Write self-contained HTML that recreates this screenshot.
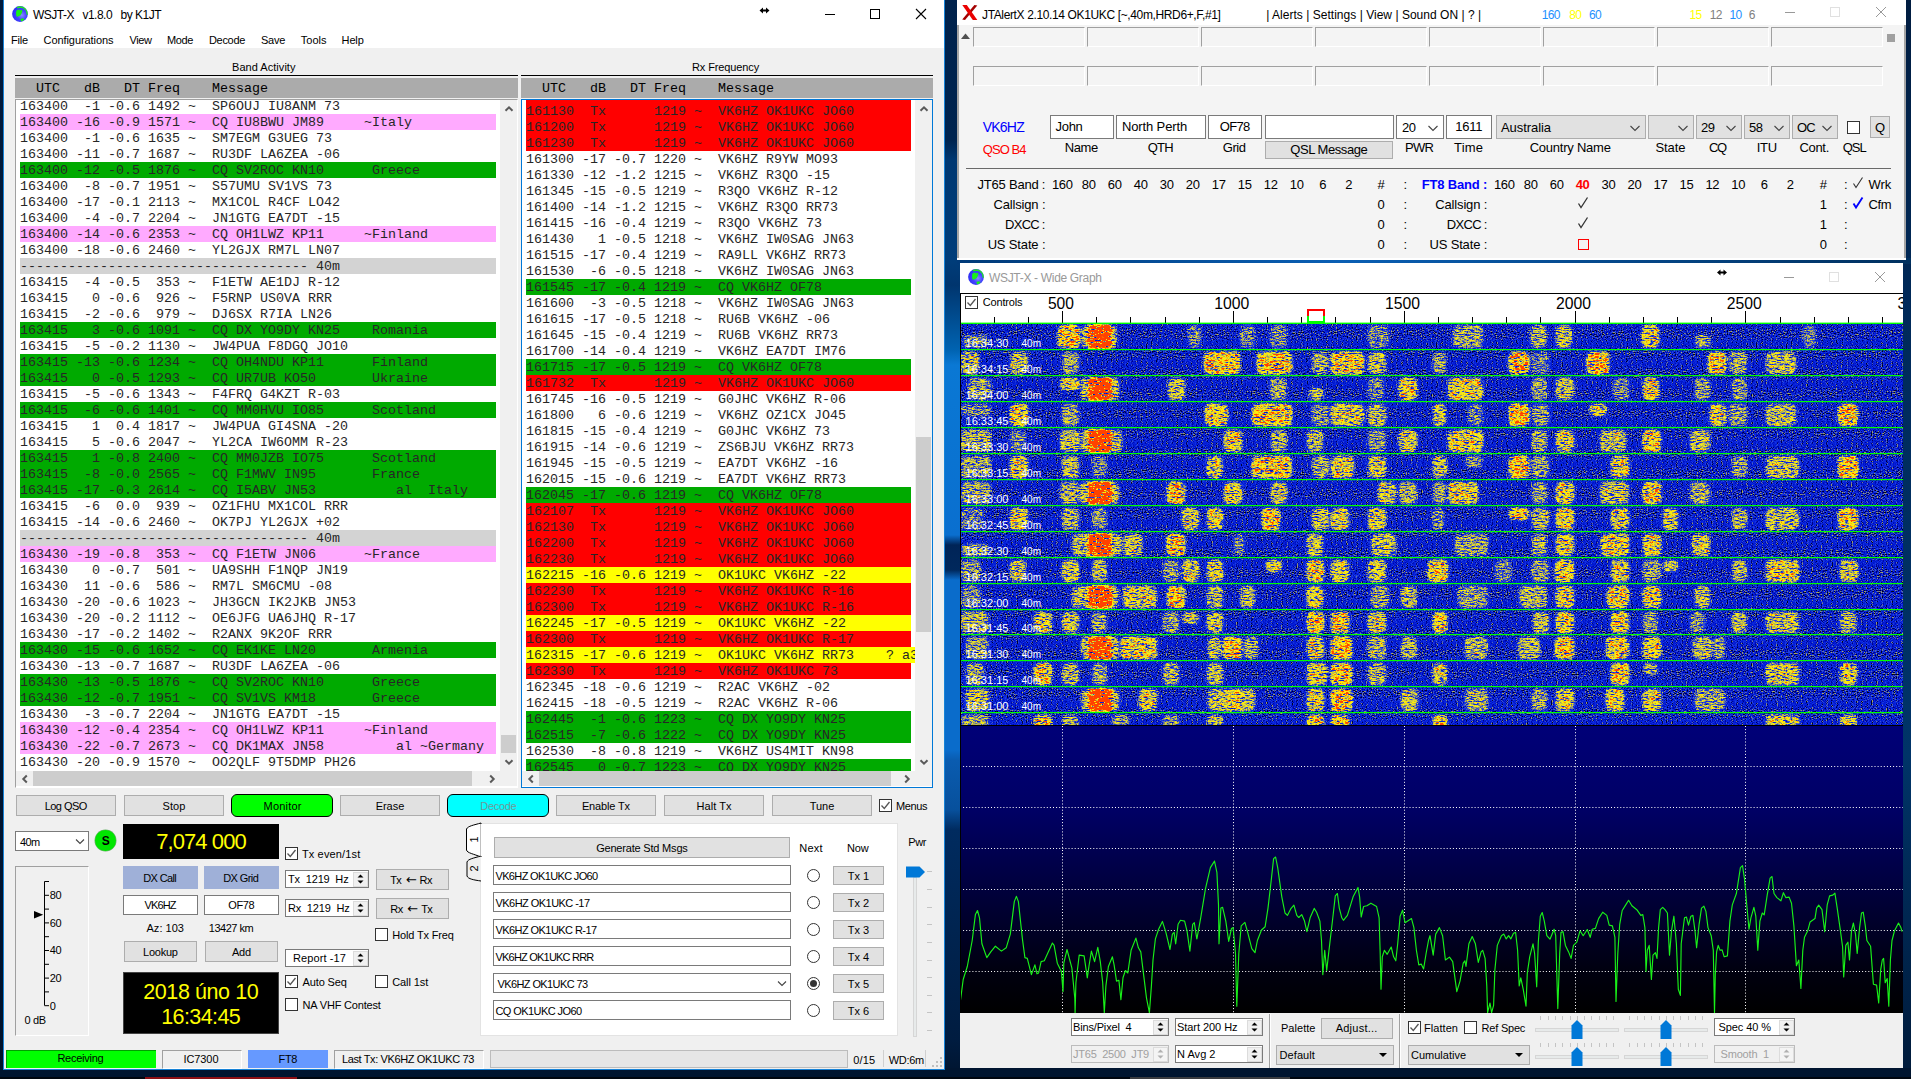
<!DOCTYPE html>
<html lang="en"><head><meta charset="utf-8"><title>WSJT-X</title>
<style>
html,body{margin:0;padding:0;width:1911px;height:1079px;overflow:hidden;}
#root{left:0;top:0;width:1911px;height:1079px;overflow:hidden;background:#001a3a;}
body{width:1911px;height:1079px;overflow:hidden;position:relative;background:#001a3a;font-family:"Liberation Sans",sans-serif;font-size:11px;color:#000;}
div,svg{position:absolute;box-sizing:content-box;}
.t{white-space:pre;overflow:visible;}
.m{white-space:pre;font-family:"Liberation Mono",monospace;font-size:13.333px;line-height:16px;color:#262626;}
.btn{background:#e1e1e1;border:1px solid #adadad;text-align:center;white-space:pre;}
.inp{background:#fff;border:1px solid #7a7a7a;white-space:pre;}
</style></head>
<body>
<div id="root">
<div style="left:0px;top:0px;width:4px;height:1079px;background:linear-gradient(180deg,#001a3c 0%,#00122c 100%)"></div><div style="left:944px;top:0px;width:17px;height:1079px;background:linear-gradient(180deg,#00224c 0px,#00244f 140px,#003872 160px,#003d7a 260px,#00356e 285px,#0063b1 350px,#0a78d4 365px,#0a6fcf 535px,#002457 545px,#00285c 570px,#0a6ccb 580px,#0a6ccb 750px,#0a5cb0 760px,#07509c 810px,#002b5f 830px,#001c40 1040px,#00142e 1079px)"></div><div style="left:1903px;top:0px;width:8px;height:1079px;background:linear-gradient(180deg,#001c40 0%,#002a5a 30%,#003468 70%,#001a3a 100%)"></div><div style="left:957px;top:258px;width:954px;height:6px;background:linear-gradient(90deg,#003a78 0%,#0a5fb4 40%,#00305f 100%)"></div><div style="left:0px;top:1068px;width:1911px;height:9px;background:#001530"></div><div style="left:0px;top:1077px;width:1911px;height:2px;background:#00060f"></div><div style="left:145px;top:1077px;width:152px;height:2px;background:#8b0f14"></div><div style="left:1130px;top:1077px;width:160px;height:2px;background:#3a3c40"></div>
<!-- main1 --><div style="left:3px;top:0px;width:942px;height:1070px;background:#1883d7"></div><div style="left:4px;top:0px;width:940px;height:48px;background:#fff"></div><div style="left:4px;top:48px;width:940px;height:1021px;background:#f0f0f0"></div><svg style="left:12px;top:6px" width="16" height="16" viewBox="0 0 16 16"><defs><radialGradient id="gg" cx="0.62" cy="0.58" r="0.6"><stop offset="0" stop-color="#8a8aff"/><stop offset="0.5" stop-color="#4343ff"/><stop offset="1" stop-color="#3030f4"/></radialGradient></defs><circle cx="8" cy="8" r="7.9" fill="url(#gg)"/><path d="M4.5 1.2 C7 -0.2 11 0 13.5 2.5 C15.2 4.3 16 6.5 15.8 9 L14.3 8.2 C14.6 6 13.8 4.4 12.6 3.4 C10.8 1.8 8 1.6 5.6 2.4 Z" fill="#21e621"/><path d="M4.6 4.2 L6.8 3.6 L8.6 4.6 L9.6 3.6 L10.4 5 L9.6 7.4 L8.2 9.6 L6.4 10.2 L5.2 11 L4.2 9.4 L4 6.6 Z" fill="#18f018"/><path d="M8.3 13 L10.4 12.2 L12.6 12.9 L11.4 14.6 L9.2 15.4 Z" fill="#18f018"/></svg><div class="t" style="left:33.00px;top:6.50px;width:400px;height:17px;line-height:17px;font-size:12px;color:#000;letter-spacing:-0.508px;">WSJT-X   v1.8.0   by K1JT</div><svg style="left:750px;top:0px" width="190" height="30" viewBox="0 0 190 30"><path d="M9.5 10.5 L13 7.5 V9.5 H16 V7.5 L19.5 10.5 L16 13.5 V11.5 H13 V13.5 Z" fill="#000"/><path d="M75 14.5 H85" stroke="#000" stroke-width="1"/><rect x="120.5" y="9.5" width="9" height="9" fill="none" stroke="#000" stroke-width="1"/><path d="M166 9 L176 19 M176 9 L166 19" stroke="#000" stroke-width="1.1"/></svg><div class="t" style="left:11.00px;top:32.50px;width:400px;height:15px;line-height:15px;font-size:11px;color:#000;letter-spacing:-0.181px;">File</div><div class="t" style="left:43.50px;top:32.50px;width:400px;height:15px;line-height:15px;font-size:11px;color:#000;letter-spacing:-0.066px;">Configurations</div><div class="t" style="left:129.50px;top:32.50px;width:400px;height:15px;line-height:15px;font-size:11px;color:#000;letter-spacing:-0.411px;">View</div><div class="t" style="left:167.00px;top:32.50px;width:400px;height:15px;line-height:15px;font-size:11px;color:#000;letter-spacing:-0.378px;">Mode</div><div class="t" style="left:209.00px;top:32.50px;width:400px;height:15px;line-height:15px;font-size:11px;color:#000;letter-spacing:-0.319px;">Decode</div><div class="t" style="left:261.00px;top:32.50px;width:400px;height:15px;line-height:15px;font-size:11px;color:#000;letter-spacing:-0.268px;">Save</div><div class="t" style="left:300.70px;top:32.50px;width:400px;height:15px;line-height:15px;font-size:11px;color:#000;letter-spacing:0.064px;">Tools</div><div class="t" style="left:341.60px;top:32.50px;width:400px;height:15px;line-height:15px;font-size:11px;color:#000;letter-spacing:-0.156px;">Help</div><div class="t" style="left:232.00px;top:59.50px;width:400px;height:15px;line-height:15px;font-size:11px;color:#000;letter-spacing:0.040px;">Band Activity</div><div class="t" style="left:692.00px;top:59.50px;width:400px;height:15px;line-height:15px;font-size:11px;color:#000;letter-spacing:-0.122px;">Rx Frequency</div><div style="left:15px;top:75px;width:503px;height:1px;background:#000"></div><div style="left:15px;top:78px;width:503px;height:20px;background:#ababab"></div><div class="m" style="left:20px;top:81px;height:16px;color:#000">  UTC   dB   DT Freq    Message</div><div style="left:15px;top:99px;width:501px;height:687px;background:#fff;border:1px solid #a0a0a0;border-right-color:#fff;border-bottom-color:#fff"></div><div style="left:16px;top:100px;width:484px;height:671px;overflow:hidden"><div class="m" style="left:4px;top:-1px;height:16px">163400  -1 -0.6 1492 ~  SP6OUJ IU8ANM 73</div><div style="left:4px;top:14px;width:476px;height:16px;background:#ffaaff"></div><div class="m" style="left:4px;top:15px;height:16px">163400 -16 -0.9 1571 ~  CQ IU8BWU JM89     ~Italy</div><div class="m" style="left:4px;top:31px;height:16px">163400  -1 -0.6 1635 ~  SM7EGM G3UEG 73</div><div class="m" style="left:4px;top:47px;height:16px">163400 -11 -0.7 1687 ~  RU3DF LA6ZEA -06</div><div style="left:4px;top:62px;width:476px;height:16px;background:#00aa00"></div><div class="m" style="left:4px;top:63px;height:16px">163400 -12 -0.5 1876 ~  CQ SV2ROC KN10      Greece</div><div class="m" style="left:4px;top:79px;height:16px">163400  -8 -0.7 1951 ~  S57UMU SV1VS 73</div><div class="m" style="left:4px;top:95px;height:16px">163400 -17 -0.1 2113 ~  MX1COL R4CF LO42</div><div class="m" style="left:4px;top:111px;height:16px">163400  -4 -0.7 2204 ~  JN1GTG EA7DT -15</div><div style="left:4px;top:126px;width:476px;height:16px;background:#ffaaff"></div><div class="m" style="left:4px;top:127px;height:16px">163400 -14 -0.6 2353 ~  CQ OH1LWZ KP11     ~Finland</div><div class="m" style="left:4px;top:143px;height:16px">163400 -18 -0.6 2460 ~  YL2GJX RM7L LN07</div><div style="left:4px;top:158px;width:476px;height:16px;background:#d3d3d3"></div><div class="m" style="left:4px;top:159px;height:16px">------------------------------------ 40m</div><div class="m" style="left:4px;top:175px;height:16px">163415  -4 -0.5  353 ~  F1ETW AE1DJ R-12</div><div class="m" style="left:4px;top:191px;height:16px">163415   0 -0.6  926 ~  F5RNP US0VA RRR</div><div class="m" style="left:4px;top:207px;height:16px">163415  -2 -0.6  979 ~  DJ6SX R7IA LN26</div><div style="left:4px;top:222px;width:476px;height:16px;background:#00aa00"></div><div class="m" style="left:4px;top:223px;height:16px">163415   3 -0.6 1091 ~  CQ DX YO9DY KN25    Romania</div><div class="m" style="left:4px;top:239px;height:16px">163415  -5 -0.2 1130 ~  JW4PUA F8DGQ JO10</div><div style="left:4px;top:254px;width:476px;height:16px;background:#00aa00"></div><div class="m" style="left:4px;top:255px;height:16px">163415 -13 -0.6 1234 ~  CQ OH4NDU KP11      Finland</div><div style="left:4px;top:270px;width:476px;height:16px;background:#00aa00"></div><div class="m" style="left:4px;top:271px;height:16px">163415   0 -0.5 1293 ~  CQ UR7UB KO50       Ukraine</div><div class="m" style="left:4px;top:287px;height:16px">163415  -5 -0.6 1343 ~  F4FRQ G4KZT R-03</div><div style="left:4px;top:302px;width:476px;height:16px;background:#00aa00"></div><div class="m" style="left:4px;top:303px;height:16px">163415  -6 -0.6 1401 ~  CQ MM0HVU IO85      Scotland</div><div class="m" style="left:4px;top:319px;height:16px">163415   1  0.4 1817 ~  JW4PUA GI4SNA -20</div><div class="m" style="left:4px;top:335px;height:16px">163415   5 -0.6 2047 ~  YL2CA IW6OMM R-23</div><div style="left:4px;top:350px;width:476px;height:16px;background:#00aa00"></div><div class="m" style="left:4px;top:351px;height:16px">163415   1 -0.8 2400 ~  CQ MM0JZB IO75      Scotland</div><div style="left:4px;top:366px;width:476px;height:16px;background:#00aa00"></div><div class="m" style="left:4px;top:367px;height:16px">163415  -8 -0.0 2565 ~  CQ F1MWV IN95       France</div><div style="left:4px;top:382px;width:476px;height:16px;background:#00aa00"></div><div class="m" style="left:4px;top:383px;height:16px">163415 -17 -0.3 2614 ~  CQ I5ABV JN53          al  Italy</div><div class="m" style="left:4px;top:399px;height:16px">163415  -6  0.0  939 ~  OZ1FHU MX1COL RRR</div><div class="m" style="left:4px;top:415px;height:16px">163415 -14 -0.6 2460 ~  OK7PJ YL2GJX +02</div><div style="left:4px;top:430px;width:476px;height:16px;background:#d3d3d3"></div><div class="m" style="left:4px;top:431px;height:16px">------------------------------------ 40m</div><div style="left:4px;top:446px;width:476px;height:16px;background:#ffaaff"></div><div class="m" style="left:4px;top:447px;height:16px">163430 -19 -0.8  353 ~  CQ F1ETW JN06      ~France</div><div class="m" style="left:4px;top:463px;height:16px">163430   0 -0.7  501 ~  UA9SHH F1NQP JN19</div><div class="m" style="left:4px;top:479px;height:16px">163430  11 -0.6  586 ~  RM7L SM6CMU -08</div><div class="m" style="left:4px;top:495px;height:16px">163430 -20 -0.6 1023 ~  JH3GCN IK2JKB JN53</div><div class="m" style="left:4px;top:511px;height:16px">163430 -20 -0.2 1112 ~  OE6JFG UA6JHQ R-17</div><div class="m" style="left:4px;top:527px;height:16px">163430 -17 -0.2 1402 ~  R2ANX 9K2OF RRR</div><div style="left:4px;top:542px;width:476px;height:16px;background:#00aa00"></div><div class="m" style="left:4px;top:543px;height:16px">163430 -15 -0.6 1652 ~  CQ EK1KE LN20       Armenia</div><div class="m" style="left:4px;top:559px;height:16px">163430 -13 -0.7 1687 ~  RU3DF LA6ZEA -06</div><div style="left:4px;top:574px;width:476px;height:16px;background:#00aa00"></div><div class="m" style="left:4px;top:575px;height:16px">163430 -13 -0.5 1876 ~  CQ SV2ROC KN10      Greece</div><div style="left:4px;top:590px;width:476px;height:16px;background:#00aa00"></div><div class="m" style="left:4px;top:591px;height:16px">163430 -12 -0.7 1951 ~  CQ SV1VS KM18       Greece</div><div class="m" style="left:4px;top:607px;height:16px">163430  -3 -0.7 2204 ~  JN1GTG EA7DT -15</div><div style="left:4px;top:622px;width:476px;height:16px;background:#ffaaff"></div><div class="m" style="left:4px;top:623px;height:16px">163430 -12 -0.4 2354 ~  CQ OH1LWZ KP11     ~Finland</div><div style="left:4px;top:638px;width:476px;height:16px;background:#ffaaff"></div><div class="m" style="left:4px;top:639px;height:16px">163430 -22 -0.7 2673 ~  CQ DK1MAX JN58         al ~Germany</div><div class="m" style="left:4px;top:655px;height:16px">163430 -20 -0.9 1570 ~  OO2QLF 9T5DMP PH26</div></div><div style="left:500px;top:100px;width:17px;height:671px;background:#f0f0f0"></div><div style="left:501px;top:735px;width:15px;height:18px;background:#cdcdcd"></div><svg style="left:502.5px;top:102.5px" width="12" height="12" viewBox="-6 -6 12 12"><polyline points="-3.5,1.8 0,-1.7 3.5,1.8" fill="none" stroke="#5a5a5a" stroke-width="2"/></svg><svg style="left:502.5px;top:756px" width="12" height="12" viewBox="-6 -6 12 12"><polyline points="-3.5,-1.8 0,1.7 3.5,-1.8" fill="none" stroke="#5a5a5a" stroke-width="2"/></svg><div style="left:16px;top:771px;width:501px;height:15px;background:#f0f0f0"></div><div style="left:33px;top:771px;width:439px;height:15px;background:#cdcdcd"></div><svg style="left:18.5px;top:772.5px" width="12" height="12" viewBox="-6 -6 12 12"><polyline points="1.8,-3.5 -1.7,0 1.8,3.5" fill="none" stroke="#5a5a5a" stroke-width="2"/></svg><svg style="left:485.5px;top:772.5px" width="12" height="12" viewBox="-6 -6 12 12"><polyline points="-1.8,-3.5 1.7,0 -1.8,3.5" fill="none" stroke="#5a5a5a" stroke-width="2"/></svg><div style="left:521px;top:75px;width:412px;height:1px;background:#000"></div><div style="left:521px;top:78px;width:412px;height:20px;background:#ababab"></div><div class="m" style="left:526px;top:81px;height:16px;color:#000">  UTC   dB   DT Freq    Message</div><div style="left:521px;top:99px;width:410px;height:687px;background:#fff;border:1px solid #0078d7"></div><div style="left:522px;top:100px;width:393px;height:671px;overflow:hidden"><div style="left:4px;top:-13px;width:385px;height:16px;background:#ff0000"></div><div style="left:4px;top:3px;width:385px;height:16px;background:#ff0000"></div><div class="m" style="left:4px;top:4px;height:16px">161130  Tx      1219 ~  VK6HZ OK1UKC JO60</div><div style="left:4px;top:19px;width:385px;height:16px;background:#ff0000"></div><div class="m" style="left:4px;top:20px;height:16px">161200  Tx      1219 ~  VK6HZ OK1UKC JO60</div><div style="left:4px;top:35px;width:385px;height:16px;background:#ff0000"></div><div class="m" style="left:4px;top:36px;height:16px">161230  Tx      1219 ~  VK6HZ OK1UKC JO60</div><div class="m" style="left:4px;top:52px;height:16px">161300 -17 -0.7 1220 ~  VK6HZ R9YW MO93</div><div class="m" style="left:4px;top:68px;height:16px">161330 -12 -1.2 1215 ~  VK6HZ R3QO -15</div><div class="m" style="left:4px;top:84px;height:16px">161345 -15 -0.5 1219 ~  R3QO VK6HZ R-12</div><div class="m" style="left:4px;top:100px;height:16px">161400 -14 -1.2 1215 ~  VK6HZ R3QO RR73</div><div class="m" style="left:4px;top:116px;height:16px">161415 -16 -0.4 1219 ~  R3QO VK6HZ 73</div><div class="m" style="left:4px;top:132px;height:16px">161430   1 -0.5 1218 ~  VK6HZ IW0SAG JN63</div><div class="m" style="left:4px;top:148px;height:16px">161515 -17 -0.4 1219 ~  RA9LL VK6HZ RR73</div><div class="m" style="left:4px;top:164px;height:16px">161530  -6 -0.5 1218 ~  VK6HZ IW0SAG JN63</div><div style="left:4px;top:179px;width:385px;height:16px;background:#00aa00"></div><div class="m" style="left:4px;top:180px;height:16px">161545 -17 -0.4 1219 ~  CQ VK6HZ OF78</div><div class="m" style="left:4px;top:196px;height:16px">161600  -3 -0.5 1218 ~  VK6HZ IW0SAG JN63</div><div class="m" style="left:4px;top:212px;height:16px">161615 -17 -0.5 1218 ~  RU6B VK6HZ -06</div><div class="m" style="left:4px;top:228px;height:16px">161645 -15 -0.4 1219 ~  RU6B VK6HZ RR73</div><div class="m" style="left:4px;top:244px;height:16px">161700 -14 -0.4 1219 ~  VK6HZ EA7DT IM76</div><div style="left:4px;top:259px;width:385px;height:16px;background:#00aa00"></div><div class="m" style="left:4px;top:260px;height:16px">161715 -17 -0.5 1219 ~  CQ VK6HZ OF78</div><div style="left:4px;top:275px;width:385px;height:16px;background:#ff0000"></div><div class="m" style="left:4px;top:276px;height:16px">161732  Tx      1219 ~  VK6HZ OK1UKC JO60</div><div class="m" style="left:4px;top:292px;height:16px">161745 -16 -0.5 1219 ~  G0JHC VK6HZ R-06</div><div class="m" style="left:4px;top:308px;height:16px">161800   6 -0.6 1219 ~  VK6HZ OZ1CX JO45</div><div class="m" style="left:4px;top:324px;height:16px">161815 -15 -0.4 1219 ~  G0JHC VK6HZ 73</div><div class="m" style="left:4px;top:340px;height:16px">161915 -14 -0.6 1219 ~  ZS6BJU VK6HZ RR73</div><div class="m" style="left:4px;top:356px;height:16px">161945 -15 -0.5 1219 ~  EA7DT VK6HZ -16</div><div class="m" style="left:4px;top:372px;height:16px">162015 -15 -0.6 1219 ~  EA7DT VK6HZ RR73</div><div style="left:4px;top:387px;width:385px;height:16px;background:#00aa00"></div><div class="m" style="left:4px;top:388px;height:16px">162045 -17 -0.6 1219 ~  CQ VK6HZ OF78</div><div style="left:4px;top:403px;width:385px;height:16px;background:#ff0000"></div><div class="m" style="left:4px;top:404px;height:16px">162107  Tx      1219 ~  VK6HZ OK1UKC JO60</div><div style="left:4px;top:419px;width:385px;height:16px;background:#ff0000"></div><div class="m" style="left:4px;top:420px;height:16px">162130  Tx      1219 ~  VK6HZ OK1UKC JO60</div><div style="left:4px;top:435px;width:385px;height:16px;background:#ff0000"></div><div class="m" style="left:4px;top:436px;height:16px">162200  Tx      1219 ~  VK6HZ OK1UKC JO60</div><div style="left:4px;top:451px;width:385px;height:16px;background:#ff0000"></div><div class="m" style="left:4px;top:452px;height:16px">162230  Tx      1219 ~  VK6HZ OK1UKC JO60</div><div style="left:4px;top:467px;width:385px;height:16px;background:#ffff00"></div><div class="m" style="left:4px;top:468px;height:16px">162215 -16 -0.6 1219 ~  OK1UKC VK6HZ -22</div><div style="left:4px;top:483px;width:385px;height:16px;background:#ff0000"></div><div class="m" style="left:4px;top:484px;height:16px">162230  Tx      1219 ~  VK6HZ OK1UKC R-16</div><div style="left:4px;top:499px;width:385px;height:16px;background:#ff0000"></div><div class="m" style="left:4px;top:500px;height:16px">162300  Tx      1219 ~  VK6HZ OK1UKC R-16</div><div style="left:4px;top:515px;width:385px;height:16px;background:#ffff00"></div><div class="m" style="left:4px;top:516px;height:16px">162245 -17 -0.5 1219 ~  OK1UKC VK6HZ -22</div><div style="left:4px;top:531px;width:385px;height:16px;background:#ff0000"></div><div class="m" style="left:4px;top:532px;height:16px">162300  Tx      1219 ~  VK6HZ OK1UKC R-17</div><div style="left:4px;top:547px;width:389px;height:16px;background:#ffff00"></div><div class="m" style="left:4px;top:548px;height:16px">162315 -17 -0.6 1219 ~  OK1UKC VK6HZ RR73    ? a3</div><div style="left:4px;top:563px;width:385px;height:16px;background:#ff0000"></div><div class="m" style="left:4px;top:564px;height:16px">162330  Tx      1219 ~  VK6HZ OK1UKC 73</div><div class="m" style="left:4px;top:580px;height:16px">162345 -18 -0.6 1219 ~  R2AC VK6HZ -02</div><div class="m" style="left:4px;top:596px;height:16px">162415 -18 -0.5 1219 ~  R2AC VK6HZ R-06</div><div style="left:4px;top:611px;width:385px;height:16px;background:#00aa00"></div><div class="m" style="left:4px;top:612px;height:16px">162445  -1 -0.6 1223 ~  CQ DX YO9DY KN25</div><div style="left:4px;top:627px;width:385px;height:16px;background:#00aa00"></div><div class="m" style="left:4px;top:628px;height:16px">162515  -7 -0.6 1222 ~  CQ DX YO9DY KN25</div><div class="m" style="left:4px;top:644px;height:16px">162530  -8 -0.8 1219 ~  VK6HZ US4MIT KN98</div><div style="left:4px;top:659px;width:385px;height:16px;background:#00aa00"></div><div class="m" style="left:4px;top:660px;height:16px">162545   0 -0.7 1223 ~  CQ DX YO9DY KN25</div></div><div style="left:915px;top:100px;width:17px;height:671px;background:#f0f0f0"></div><div style="left:916px;top:437px;width:15px;height:195px;background:#cdcdcd"></div><svg style="left:917.5px;top:102.5px" width="12" height="12" viewBox="-6 -6 12 12"><polyline points="-3.5,1.8 0,-1.7 3.5,1.8" fill="none" stroke="#5a5a5a" stroke-width="2"/></svg><svg style="left:917.5px;top:756px" width="12" height="12" viewBox="-6 -6 12 12"><polyline points="-3.5,-1.8 0,1.7 3.5,-1.8" fill="none" stroke="#5a5a5a" stroke-width="2"/></svg><div style="left:522px;top:771px;width:410px;height:15px;background:#f0f0f0"></div><div style="left:539px;top:771px;width:352px;height:15px;background:#cdcdcd"></div><svg style="left:524.5px;top:772.5px" width="12" height="12" viewBox="-6 -6 12 12"><polyline points="1.8,-3.5 -1.7,0 1.8,3.5" fill="none" stroke="#5a5a5a" stroke-width="2"/></svg><svg style="left:900.5px;top:772.5px" width="12" height="12" viewBox="-6 -6 12 12"><polyline points="-1.8,-3.5 1.7,0 -1.8,3.5" fill="none" stroke="#5a5a5a" stroke-width="2"/></svg>
<!-- main2 --><div style="left:16px;top:795px;width:98px;height:19px;background:#e1e1e1;border:1px solid #adadad;"></div><div class="t" style="left:-84.28px;top:798.50px;width:300px;height:15px;line-height:15px;font-size:11px;color:#000;text-align:center;letter-spacing:-0.551px;">Log QSO</div><div style="left:124px;top:795px;width:98px;height:19px;background:#e1e1e1;border:1px solid #adadad;"></div><div class="t" style="left:24.05px;top:798.50px;width:300px;height:15px;line-height:15px;font-size:11px;color:#000;text-align:center;letter-spacing:0.093px;">Stop</div><div style="left:231px;top:794px;width:100px;height:21px;background:#00ff00;border:1px solid #000;border-radius:6px;"></div><div class="t" style="left:132.59px;top:798.50px;width:300px;height:15px;line-height:15px;font-size:11px;color:#000;text-align:center;letter-spacing:0.189px;">Monitor</div><div style="left:340px;top:795px;width:98px;height:19px;background:#e1e1e1;border:1px solid #adadad;"></div><div class="t" style="left:239.98px;top:798.50px;width:300px;height:15px;line-height:15px;font-size:11px;color:#000;text-align:center;letter-spacing:-0.047px;">Erase</div><div style="left:447px;top:794px;width:100px;height:21px;background:#00ffff;border:1px solid #000;border-radius:6px;"></div><div class="t" style="left:348.34px;top:798.50px;width:300px;height:15px;line-height:15px;font-size:11px;color:#6f9a9a;text-align:center;letter-spacing:-0.319px;">Decode</div><div style="left:556px;top:795px;width:98px;height:19px;background:#e1e1e1;border:1px solid #adadad;"></div><div class="t" style="left:455.93px;top:798.50px;width:300px;height:15px;line-height:15px;font-size:11px;color:#000;text-align:center;letter-spacing:-0.147px;">Enable Tx</div><div style="left:664px;top:795px;width:98px;height:19px;background:#e1e1e1;border:1px solid #adadad;"></div><div class="t" style="left:564.03px;top:798.50px;width:300px;height:15px;line-height:15px;font-size:11px;color:#000;text-align:center;letter-spacing:0.052px;">Halt Tx</div><div style="left:772px;top:795px;width:98px;height:19px;background:#e1e1e1;border:1px solid #adadad;"></div><div class="t" style="left:671.98px;top:798.50px;width:300px;height:15px;line-height:15px;font-size:11px;color:#000;text-align:center;letter-spacing:-0.041px;">Tune</div><div style="left:879px;top:799px;width:11px;height:11px;background:#fff;border:1px solid #333;"></div><svg style="left:879px;top:799px" width="13" height="13" viewBox="0 0 13 13"><polyline points="2.5,6.5 5.3,9.5 10.5,3" fill="none" stroke="#555" stroke-width="1.3"/></svg><div class="t" style="left:896.00px;top:798.50px;width:400px;height:15px;line-height:15px;font-size:11px;color:#000;letter-spacing:-0.403px;">Menus</div><div style="left:15px;top:831px;width:72px;height:18px;background:#fff;border:1px solid #7a7a7a;"></div><div class="t" style="left:20.00px;top:834.50px;width:400px;height:15px;line-height:15px;font-size:11px;color:#000;letter-spacing:-0.632px;">40m</div><svg style="left:74px;top:837px" width="12" height="9" viewBox="0 0 12 9"><polyline points="2,2.5 6,6.5 10,2.5" fill="none" stroke="#444" stroke-width="1.1"/></svg><div style="left:95px;top:830px;width:21px;height:21px;background:#00e600;border-radius:50%;box-shadow:0 0 0 0.5px #6ab06a;"></div><div class="t" style="left:-44.20px;top:833.00px;width:300px;height:17px;line-height:17px;font-size:12px;color:#000;text-align:center;font-weight:bold;">S</div><div style="left:123px;top:824px;width:156px;height:35px;background:#000"></div><div class="t" style="left:51.04px;top:827.00px;width:300px;height:30px;line-height:30px;font-size:22px;color:#ffff00;text-align:center;letter-spacing:-0.929px;">7,074 000</div><div style="left:123px;top:866px;width:75px;height:23px;background:#9fb0d8"></div><div class="t" style="left:9.69px;top:870.50px;width:300px;height:15px;line-height:15px;font-size:11px;color:#000;text-align:center;letter-spacing:-0.612px;">DX Call</div><div style="left:204px;top:866px;width:75px;height:23px;background:#9fb0d8"></div><div class="t" style="left:90.71px;top:870.50px;width:300px;height:15px;line-height:15px;font-size:11px;color:#000;text-align:center;letter-spacing:-0.588px;">DX Grid</div><div style="left:123px;top:895px;width:73px;height:18px;background:#fff;border:1px solid #7a7a7a;"></div><div class="t" style="left:10.05px;top:898.00px;width:300px;height:15px;line-height:15px;font-size:11px;color:#000;text-align:center;letter-spacing:-0.891px;">VK6HZ</div><div style="left:204px;top:895px;width:73px;height:18px;background:#fff;border:1px solid #7a7a7a;"></div><div class="t" style="left:91.31px;top:898.00px;width:300px;height:15px;line-height:15px;font-size:11px;color:#000;text-align:center;letter-spacing:-0.377px;">OF78</div><div class="t" style="left:146.50px;top:920.50px;width:400px;height:15px;line-height:15px;font-size:11px;color:#000;letter-spacing:0.029px;">Az: 103</div><div class="t" style="left:208.80px;top:920.50px;width:400px;height:15px;line-height:15px;font-size:11px;color:#000;letter-spacing:-0.475px;">13427 km</div><div style="left:124px;top:941px;width:71px;height:19px;background:#e1e1e1;border:1px solid #adadad;"></div><div class="t" style="left:10.37px;top:944.50px;width:300px;height:15px;line-height:15px;font-size:11px;color:#000;text-align:center;letter-spacing:-0.264px;">Lookup</div><div style="left:205px;top:941px;width:71px;height:19px;background:#e1e1e1;border:1px solid #adadad;"></div><div class="t" style="left:91.40px;top:944.50px;width:300px;height:15px;line-height:15px;font-size:11px;color:#000;text-align:center;letter-spacing:-0.190px;">Add</div><div style="left:123px;top:972px;width:154px;height:60px;background:#000;border:1px solid #444;"></div><div class="t" style="left:50.79px;top:977.80px;width:300px;height:28px;line-height:28px;font-size:21.5px;color:#ffff00;text-align:center;letter-spacing:-0.414px;">2018 úno 10</div><div class="t" style="left:50.71px;top:1002.80px;width:300px;height:28px;line-height:28px;font-size:21.5px;color:#ffff00;text-align:center;letter-spacing:-0.585px;">16:34:45</div><div style="left:15px;top:866px;width:72px;height:168px;border:1px solid #fff;border-top-color:#a0a0a0;border-left-color:#a0a0a0;"></div><svg style="left:15px;top:866px" width="74" height="170" viewBox="15 866 74 170"><path d="M44.5 881.5 V1005.5" stroke="#000" stroke-width="1" fill="none"/><path d="M44.5 881.5 H49" stroke="#000" stroke-width="1"/><path d="M44.5 895.3 H49" stroke="#000" stroke-width="1"/><path d="M44.5 909.1 H49" stroke="#000" stroke-width="1"/><path d="M44.5 922.9 H49" stroke="#000" stroke-width="1"/><path d="M44.5 936.7 H49" stroke="#000" stroke-width="1"/><path d="M44.5 950.5 H49" stroke="#000" stroke-width="1"/><path d="M44.5 964.3 H49" stroke="#000" stroke-width="1"/><path d="M44.5 978.1 H49" stroke="#000" stroke-width="1"/><path d="M44.5 991.9 H49" stroke="#000" stroke-width="1"/><path d="M44.5 1005.7 H49" stroke="#000" stroke-width="1"/><path d="M34 911 L43.2 914.8 L34 918.6 Z" fill="#000"/></svg><div class="t" style="left:49.70px;top:888.00px;width:400px;height:15px;line-height:15px;font-size:11px;color:#000;letter-spacing:-0.184px;">80</div><div class="t" style="left:49.70px;top:915.80px;width:400px;height:15px;line-height:15px;font-size:11px;color:#000;letter-spacing:-0.184px;">60</div><div class="t" style="left:49.70px;top:943.10px;width:400px;height:15px;line-height:15px;font-size:11px;color:#000;letter-spacing:-0.184px;">40</div><div class="t" style="left:49.70px;top:970.80px;width:400px;height:15px;line-height:15px;font-size:11px;color:#000;letter-spacing:-0.184px;">20</div><div class="t" style="left:49.70px;top:998.50px;width:400px;height:15px;line-height:15px;font-size:11px;color:#000;">0</div><div class="t" style="left:24.60px;top:1013.00px;width:400px;height:15px;line-height:15px;font-size:11px;color:#000;letter-spacing:-0.407px;">0 dB</div><div style="left:285px;top:847px;width:11px;height:11px;background:#fff;border:1px solid #333;"></div><svg style="left:285px;top:847px" width="13" height="13" viewBox="0 0 13 13"><polyline points="2.5,6.5 5.3,9.5 10.5,3" fill="none" stroke="#555" stroke-width="1.3"/></svg><div class="t" style="left:301.90px;top:846.50px;width:400px;height:15px;line-height:15px;font-size:11px;color:#000;letter-spacing:0.150px;">Tx even/1st</div><div style="left:285px;top:870px;width:82px;height:16px;background:#fff;border:1px solid #7a7a7a;"></div><div class="t" style="left:288.00px;top:872.00px;width:400px;height:15px;line-height:15px;font-size:11px;color:#000;letter-spacing:-0.155px;">Tx  1219  Hz</div><div style="left:353px;top:872px;width:13px;height:13px;background:#f0f0f0;border:1px solid #dcdcdc;"></div><svg style="left:356px;top:872.0px" width="9" height="14" viewBox="0 0 9 14"><path d="M1.5 5.5 L4.5 2.5 L7.5 5.5 Z M1.5 8.5 L4.5 11.5 L7.5 8.5 Z" fill="#000"/></svg><div style="left:285px;top:899px;width:82px;height:16px;background:#fff;border:1px solid #7a7a7a;"></div><div class="t" style="left:288.00px;top:901.00px;width:400px;height:15px;line-height:15px;font-size:11px;color:#000;letter-spacing:-0.173px;">Rx  1219  Hz</div><div style="left:353px;top:901px;width:13px;height:13px;background:#f0f0f0;border:1px solid #dcdcdc;"></div><svg style="left:356px;top:901.0px" width="9" height="14" viewBox="0 0 9 14"><path d="M1.5 5.5 L4.5 2.5 L7.5 5.5 Z M1.5 8.5 L4.5 11.5 L7.5 8.5 Z" fill="#000"/></svg><div style="left:376px;top:869px;width:71px;height:19px;background:#e1e1e1;border:1px solid #adadad;"></div><div class="t" style="left:262.50px;top:872.50px;width:300px;height:15px;line-height:15px;font-size:11px;color:#000;text-align:center;"></div><div class="t" style="left:390.20px;top:872.80px;width:400px;height:15px;line-height:15px;font-size:11px;color:#000;letter-spacing:-0.609px;">Tx</div><div class="t" style="left:406.00px;top:870.60px;width:400px;height:18px;line-height:18px;font-size:13px;color:#000;font-family:'DejaVu Sans','Liberation Sans',sans-serif;">←</div><div class="t" style="left:419.50px;top:872.80px;width:400px;height:15px;line-height:15px;font-size:11px;color:#000;letter-spacing:-0.472px;">Rx</div><div style="left:376px;top:898px;width:71px;height:19px;background:#e1e1e1;border:1px solid #adadad;"></div><div class="t" style="left:262.50px;top:901.50px;width:300px;height:15px;line-height:15px;font-size:11px;color:#000;text-align:center;"></div><div class="t" style="left:390.20px;top:901.80px;width:400px;height:15px;line-height:15px;font-size:11px;color:#000;letter-spacing:-0.472px;">Rx</div><div class="t" style="left:407.30px;top:899.60px;width:400px;height:18px;line-height:18px;font-size:13px;color:#000;font-family:'DejaVu Sans','Liberation Sans',sans-serif;">←</div><div class="t" style="left:421.20px;top:901.80px;width:400px;height:15px;line-height:15px;font-size:11px;color:#000;letter-spacing:-0.609px;">Tx</div><div style="left:375px;top:928px;width:11px;height:11px;background:#fff;border:1px solid #333;"></div><div class="t" style="left:392.20px;top:927.50px;width:400px;height:15px;line-height:15px;font-size:11px;color:#000;letter-spacing:-0.156px;">Hold Tx Freq</div><div style="left:285px;top:949px;width:82px;height:16px;background:#fff;border:1px solid #7a7a7a;"></div><div class="t" style="left:293.00px;top:951.00px;width:400px;height:15px;line-height:15px;font-size:11px;color:#000;letter-spacing:0.103px;">Report -17</div><div style="left:353px;top:951px;width:13px;height:13px;background:#f0f0f0;border:1px solid #dcdcdc;"></div><svg style="left:356px;top:951.0px" width="9" height="14" viewBox="0 0 9 14"><path d="M1.5 5.5 L4.5 2.5 L7.5 5.5 Z M1.5 8.5 L4.5 11.5 L7.5 8.5 Z" fill="#000"/></svg><div style="left:285px;top:975px;width:11px;height:11px;background:#fff;border:1px solid #333;"></div><svg style="left:285px;top:975px" width="13" height="13" viewBox="0 0 13 13"><polyline points="2.5,6.5 5.3,9.5 10.5,3" fill="none" stroke="#555" stroke-width="1.3"/></svg><div class="t" style="left:302.60px;top:974.50px;width:400px;height:15px;line-height:15px;font-size:11px;color:#000;letter-spacing:-0.157px;">Auto Seq</div><div style="left:375px;top:975px;width:11px;height:11px;background:#fff;border:1px solid #333;"></div><div class="t" style="left:392.20px;top:974.50px;width:400px;height:15px;line-height:15px;font-size:11px;color:#000;letter-spacing:-0.085px;">Call 1st</div><div style="left:285px;top:998px;width:11px;height:11px;background:#fff;border:1px solid #333;"></div><div class="t" style="left:302.60px;top:997.50px;width:400px;height:15px;line-height:15px;font-size:11px;color:#000;letter-spacing:-0.192px;">NA VHF Contest</div><div style="left:480px;top:823px;width:416px;height:211px;background:#fff;border:1px solid #e3e3e3;"></div><svg style="left:462px;top:820px" width="22" height="66" viewBox="462 820 22 66"><path d="M481 823 C474 825 468 826 466.5 829 V850 C467 853 474 854 481 857 Z" fill="#fff" stroke="#000" stroke-width="1"/><path d="M481 856 C474 858 468 859 467 862 V876 C468 879 474 880 481 881" fill="#f0f0f0" stroke="#000" stroke-width="1"/><rect x="480.5" y="824" width="2" height="32" fill="#fff"/></svg><div class="t" style="left:323.50px;top:831.50px;width:300px;height:15px;line-height:15px;font-size:11px;color:#000;text-align:center;transform:rotate(-90deg);">1</div><div class="t" style="left:323.50px;top:860.50px;width:300px;height:15px;line-height:15px;font-size:11px;color:#000;text-align:center;transform:rotate(-90deg);">2</div><div style="left:494px;top:837px;width:294px;height:19px;background:#e1e1e1;border:1px solid #adadad;"></div><div class="t" style="left:491.90px;top:840.50px;width:300px;height:15px;line-height:15px;font-size:11px;color:#000;text-align:center;letter-spacing:-0.192px;">Generate Std Msgs</div><div class="t" style="left:799.30px;top:840.50px;width:400px;height:15px;line-height:15px;font-size:11px;color:#000;letter-spacing:0.221px;">Next</div><div class="t" style="left:847.00px;top:840.50px;width:400px;height:15px;line-height:15px;font-size:11px;color:#000;letter-spacing:-0.168px;">Now</div><div style="left:493px;top:865px;width:296px;height:18px;background:#fff;border:1px solid #7a7a7a;"></div><div class="t" style="left:495.50px;top:868.80px;width:400px;height:15px;line-height:15px;font-size:11px;color:#000;letter-spacing:-0.652px;">VK6HZ OK1UKC JO60</div><div style="left:806.8px;top:869.0px;width:11px;height:11px;background:#fff;border:1px solid #333;border-radius:50%;"></div><div style="left:833px;top:866px;width:49px;height:17px;background:#e1e1e1;border:1px solid #adadad;"></div><div class="t" style="left:708.51px;top:868.50px;width:300px;height:15px;line-height:15px;font-size:11px;color:#000;text-align:center;letter-spacing:0.027px;">Tx 1</div><div style="left:493px;top:892px;width:296px;height:18px;background:#fff;border:1px solid #7a7a7a;"></div><div class="t" style="left:495.50px;top:895.80px;width:400px;height:15px;line-height:15px;font-size:11px;color:#000;letter-spacing:-0.544px;">VK6HZ OK1UKC -17</div><div style="left:806.8px;top:896.0px;width:11px;height:11px;background:#fff;border:1px solid #333;border-radius:50%;"></div><div style="left:833px;top:893px;width:49px;height:17px;background:#e1e1e1;border:1px solid #adadad;"></div><div class="t" style="left:708.51px;top:895.50px;width:300px;height:15px;line-height:15px;font-size:11px;color:#000;text-align:center;letter-spacing:0.027px;">Tx 2</div><div style="left:493px;top:919px;width:296px;height:18px;background:#fff;border:1px solid #7a7a7a;"></div><div class="t" style="left:495.50px;top:922.80px;width:400px;height:15px;line-height:15px;font-size:11px;color:#000;letter-spacing:-0.567px;">VK6HZ OK1UKC R-17</div><div style="left:806.8px;top:923.0px;width:11px;height:11px;background:#fff;border:1px solid #333;border-radius:50%;"></div><div style="left:833px;top:920px;width:49px;height:17px;background:#e1e1e1;border:1px solid #adadad;"></div><div class="t" style="left:708.51px;top:922.50px;width:300px;height:15px;line-height:15px;font-size:11px;color:#000;text-align:center;letter-spacing:0.027px;">Tx 3</div><div style="left:493px;top:946px;width:296px;height:18px;background:#fff;border:1px solid #7a7a7a;"></div><div class="t" style="left:495.50px;top:949.80px;width:400px;height:15px;line-height:15px;font-size:11px;color:#000;letter-spacing:-0.790px;">VK6HZ OK1UKC RRR</div><div style="left:806.8px;top:950.0px;width:11px;height:11px;background:#fff;border:1px solid #333;border-radius:50%;"></div><div style="left:833px;top:947px;width:49px;height:17px;background:#e1e1e1;border:1px solid #adadad;"></div><div class="t" style="left:708.51px;top:949.50px;width:300px;height:15px;line-height:15px;font-size:11px;color:#000;text-align:center;letter-spacing:0.027px;">Tx 4</div><div style="left:493px;top:973px;width:296px;height:18px;background:#fff;border:1px solid #7a7a7a;"></div><div class="t" style="left:497.50px;top:976.80px;width:400px;height:15px;line-height:15px;font-size:11px;color:#000;letter-spacing:-0.602px;">VK6HZ OK1UKC 73</div><svg style="left:776px;top:979px" width="12" height="9" viewBox="0 0 12 9"><polyline points="2,2.5 6,6.5 10,2.5" fill="none" stroke="#444" stroke-width="1.1"/></svg><div style="left:806.8px;top:977.0px;width:11px;height:11px;background:#fff;border:1px solid #333;border-radius:50%;"></div><div style="left:809.8px;top:980.0px;width:7px;height:7px;background:#333;border-radius:50%;"></div><div style="left:833px;top:974px;width:49px;height:17px;background:#e1e1e1;border:1px solid #adadad;"></div><div class="t" style="left:708.51px;top:976.50px;width:300px;height:15px;line-height:15px;font-size:11px;color:#000;text-align:center;letter-spacing:0.027px;">Tx 5</div><div style="left:493px;top:1000px;width:296px;height:18px;background:#fff;border:1px solid #7a7a7a;"></div><div class="t" style="left:495.50px;top:1003.80px;width:400px;height:15px;line-height:15px;font-size:11px;color:#000;letter-spacing:-0.581px;">CQ OK1UKC JO60</div><div style="left:806.8px;top:1004.0px;width:11px;height:11px;background:#fff;border:1px solid #333;border-radius:50%;"></div><div style="left:833px;top:1001px;width:49px;height:17px;background:#e1e1e1;border:1px solid #adadad;"></div><div class="t" style="left:708.51px;top:1003.50px;width:300px;height:15px;line-height:15px;font-size:11px;color:#000;text-align:center;letter-spacing:0.027px;">Tx 6</div><div class="t" style="left:908.20px;top:834.80px;width:400px;height:15px;line-height:15px;font-size:11px;color:#000;letter-spacing:-0.315px;">Pwr</div><div style="left:913px;top:877px;width:2px;height:158px;background:#e7eaea;border:1px solid #d6d6d6;"></div><svg style="left:905px;top:865px" width="21" height="14" viewBox="905 865 21 14"><path d="M906 866.5 H919.5 L925 872 L919.5 877.5 H906 Z" fill="#0078d7"/></svg><div style="left:926.5px;top:871px;width:5px;height:1px;background:#c4c4c4"></div><div style="left:926.5px;top:889px;width:5px;height:1px;background:#c4c4c4"></div><div style="left:926.5px;top:907px;width:5px;height:1px;background:#c4c4c4"></div><div style="left:926.5px;top:924px;width:5px;height:1px;background:#c4c4c4"></div><div style="left:926.5px;top:942px;width:5px;height:1px;background:#c4c4c4"></div><div style="left:926.5px;top:960px;width:5px;height:1px;background:#c4c4c4"></div><div style="left:926.5px;top:977px;width:5px;height:1px;background:#c4c4c4"></div><div style="left:926.5px;top:995px;width:5px;height:1px;background:#c4c4c4"></div><div style="left:926.5px;top:1012px;width:5px;height:1px;background:#c4c4c4"></div><div style="left:926.5px;top:1030px;width:5px;height:1px;background:#c4c4c4"></div><div style="left:6px;top:1050px;width:149px;height:17px;background:#00ff00;border-top:1px solid #00a000;border-left:1px solid #00a000;"></div><div class="t" style="left:-69.63px;top:1051.30px;width:300px;height:15px;line-height:15px;font-size:11px;color:#000;text-align:center;letter-spacing:-0.256px;">Receiving</div><div style="left:162px;top:1050px;width:78px;height:17px;border:1px solid #fff;border-top-color:#a0a0a0;border-left-color:#a0a0a0;"></div><div class="t" style="left:50.96px;top:1051.50px;width:300px;height:15px;line-height:15px;font-size:11px;color:#000;text-align:center;letter-spacing:-0.078px;">IC7300</div><div style="left:248px;top:1050px;width:80px;height:18px;background:#6699ff"></div><div class="t" style="left:137.82px;top:1051.50px;width:300px;height:15px;line-height:15px;font-size:11px;color:#000;text-align:center;letter-spacing:-0.351px;">FT8</div><div style="left:334px;top:1050px;width:148px;height:17px;border:1px solid #fff;border-top-color:#a0a0a0;border-left-color:#a0a0a0;"></div><div class="t" style="left:342.00px;top:1051.50px;width:400px;height:15px;line-height:15px;font-size:11px;color:#000;letter-spacing:-0.376px;">Last Tx: VK6HZ OK1UKC 73</div><div style="left:490px;top:1050px;width:356px;height:16px;background:#e6e6e6;border:1px solid #bcbcbc;"></div><div class="t" style="left:853.30px;top:1052.50px;width:400px;height:15px;line-height:15px;font-size:11px;color:#000;letter-spacing:0.148px;">0/15</div><div style="left:883px;top:1050px;width:1px;height:17px;background:#d0d0d0"></div><div class="t" style="left:888.80px;top:1052.50px;width:400px;height:15px;line-height:15px;font-size:11px;color:#000;letter-spacing:-0.333px;">WD:6m</div><div style="left:925px;top:1050px;width:1px;height:17px;background:#d0d0d0"></div><svg style="left:931px;top:1056px" width="12" height="12" viewBox="0 0 12 12"><rect x="9" y="1" width="2" height="2" fill="#bfbfbf"/><rect x="5" y="5" width="2" height="2" fill="#bfbfbf"/><rect x="9" y="5" width="2" height="2" fill="#bfbfbf"/><rect x="1" y="9" width="2" height="2" fill="#bfbfbf"/><rect x="5" y="9" width="2" height="2" fill="#bfbfbf"/><rect x="9" y="9" width="2" height="2" fill="#bfbfbf"/></svg>
<!-- jtalert --><div style="left:957px;top:0px;width:949px;height:25px;background:#fff"></div><div style="left:957px;top:25px;width:949px;height:233px;background:#f4f4f4"></div><div style="left:957px;top:25px;width:2px;height:233px;background:#a5a5a5"></div><div style="left:1904px;top:25px;width:2px;height:233px;background:#a5a5a5"></div><div style="left:957px;top:258px;width:949px;height:2px;background:#fff"></div><svg style="left:961px;top:4px" width="18" height="18" viewBox="0 0 18 18"><path d="M13.4 1 L16.3 1.4 L4 16 L1.2 15.6 Z" fill="#a40000"/><path d="M1.3 1.1 L5.8 1.1 L16.3 16 L11.8 16 Z" fill="#ea0000"/></svg><div class="t" style="left:982.00px;top:6.50px;width:400px;height:17px;line-height:17px;font-size:12px;color:#000;letter-spacing:-0.366px;">JTAlertX 2.10.14 OK1UKC [~,40m,HRD6+,F,#1]</div><div class="t" style="left:1266.20px;top:6.50px;width:400px;height:17px;line-height:17px;font-size:12px;color:#000;letter-spacing:0.025px;">| Alerts | Settings | View | Sound ON | ? |</div><div class="t" style="left:1541.70px;top:6.50px;width:400px;height:17px;line-height:17px;font-size:12px;color:#1e90ff;letter-spacing:-0.673px;">160</div><div class="t" style="left:1569.20px;top:6.50px;width:400px;height:17px;line-height:17px;font-size:12px;color:#ffff00;letter-spacing:-0.673px;">80</div><div class="t" style="left:1589.00px;top:6.50px;width:400px;height:17px;line-height:17px;font-size:12px;color:#1e90ff;letter-spacing:-0.673px;">60</div><div class="t" style="left:1689.50px;top:6.50px;width:400px;height:17px;line-height:17px;font-size:12px;color:#ffff00;letter-spacing:-0.673px;">15</div><div class="t" style="left:1709.70px;top:6.50px;width:400px;height:17px;line-height:17px;font-size:12px;color:#808080;letter-spacing:-0.673px;">12</div><div class="t" style="left:1729.40px;top:6.50px;width:400px;height:17px;line-height:17px;font-size:12px;color:#1e90ff;letter-spacing:-0.673px;">10</div><div class="t" style="left:1748.80px;top:6.50px;width:400px;height:17px;line-height:17px;font-size:12px;color:#808080;">6</div><svg style="left:1780px;top:0px" width="120" height="25" viewBox="1780 0 120 25"><path d="M1785 12.5 H1795" stroke="#999" stroke-width="1"/><rect x="1830.5" y="7.5" width="9" height="9" fill="none" stroke="#e0e0e0" stroke-width="1"/><path d="M1876 7 L1886 17 M1886 7 L1876 17" stroke="#999" stroke-width="1"/></svg><div style="left:973px;top:27px;width:110px;height:18px;background:#f4f4f4;border:1px solid #fff;border-top-color:#a0a0a0;border-left-color:#a0a0a0;"></div><div style="left:1087px;top:27px;width:110px;height:18px;background:#f4f4f4;border:1px solid #fff;border-top-color:#a0a0a0;border-left-color:#a0a0a0;"></div><div style="left:1201px;top:27px;width:110px;height:18px;background:#f4f4f4;border:1px solid #fff;border-top-color:#a0a0a0;border-left-color:#a0a0a0;"></div><div style="left:1315px;top:27px;width:110px;height:18px;background:#f4f4f4;border:1px solid #fff;border-top-color:#a0a0a0;border-left-color:#a0a0a0;"></div><div style="left:1429px;top:27px;width:110px;height:18px;background:#f4f4f4;border:1px solid #fff;border-top-color:#a0a0a0;border-left-color:#a0a0a0;"></div><div style="left:1543px;top:27px;width:110px;height:18px;background:#f4f4f4;border:1px solid #fff;border-top-color:#a0a0a0;border-left-color:#a0a0a0;"></div><div style="left:1657px;top:27px;width:110px;height:18px;background:#f4f4f4;border:1px solid #fff;border-top-color:#a0a0a0;border-left-color:#a0a0a0;"></div><div style="left:1771px;top:27px;width:110px;height:18px;background:#f4f4f4;border:1px solid #fff;border-top-color:#a0a0a0;border-left-color:#a0a0a0;"></div><div style="left:973px;top:66px;width:110px;height:18px;background:#f4f4f4;border:1px solid #fff;border-top-color:#a0a0a0;border-left-color:#a0a0a0;"></div><div style="left:1087px;top:66px;width:110px;height:18px;background:#f4f4f4;border:1px solid #fff;border-top-color:#a0a0a0;border-left-color:#a0a0a0;"></div><div style="left:1201px;top:66px;width:110px;height:18px;background:#f4f4f4;border:1px solid #fff;border-top-color:#a0a0a0;border-left-color:#a0a0a0;"></div><div style="left:1315px;top:66px;width:110px;height:18px;background:#f4f4f4;border:1px solid #fff;border-top-color:#a0a0a0;border-left-color:#a0a0a0;"></div><div style="left:1429px;top:66px;width:110px;height:18px;background:#f4f4f4;border:1px solid #fff;border-top-color:#a0a0a0;border-left-color:#a0a0a0;"></div><div style="left:1543px;top:66px;width:110px;height:18px;background:#f4f4f4;border:1px solid #fff;border-top-color:#a0a0a0;border-left-color:#a0a0a0;"></div><div style="left:1657px;top:66px;width:110px;height:18px;background:#f4f4f4;border:1px solid #fff;border-top-color:#a0a0a0;border-left-color:#a0a0a0;"></div><div style="left:1771px;top:66px;width:110px;height:18px;background:#f4f4f4;border:1px solid #fff;border-top-color:#a0a0a0;border-left-color:#a0a0a0;"></div><svg style="left:960px;top:31px" width="12" height="10" viewBox="0 0 12 10"><path d="M1 8 L5.5 2.5 L10 8 Z" fill="#505050"/></svg><div style="left:1887px;top:34px;width:8px;height:8px;background:#a0a0a0"></div><div class="t" style="left:982.70px;top:117.30px;width:400px;height:20px;line-height:20px;font-size:14px;color:#0000ff;letter-spacing:-0.765px;">VK6HZ</div><div class="t" style="left:982.70px;top:140.70px;width:400px;height:18px;line-height:18px;font-size:13px;color:#ff0000;letter-spacing:-0.901px;">QSO B4</div><div style="left:1050px;top:115px;width:62px;height:22px;background:#fff;border:1px solid #7a7a7a;"></div><div class="t" style="left:1055.50px;top:118.00px;width:400px;height:18px;line-height:18px;font-size:13px;color:#000;letter-spacing:-0.297px;">John</div><div style="left:1116px;top:115px;width:88px;height:22px;background:#fff;border:1px solid #7a7a7a;"></div><div class="t" style="left:1122.00px;top:118.00px;width:400px;height:18px;line-height:18px;font-size:13px;color:#000;letter-spacing:-0.134px;">North Perth</div><div style="left:1208px;top:115px;width:52px;height:22px;background:#fff;border:1px solid #7a7a7a;"></div><div class="t" style="left:1084.69px;top:118.00px;width:300px;height:18px;line-height:18px;font-size:13px;color:#000;text-align:center;letter-spacing:-0.628px;">OF78</div><div style="left:1264.5px;top:115px;width:127.5px;height:22px;background:#fff;border:1px solid #7a7a7a;"></div><div style="left:1396px;top:115px;width:46px;height:22px;background:#fff;border:1px solid #7a7a7a;"></div><div class="t" style="left:1402.00px;top:118.50px;width:400px;height:18px;line-height:18px;font-size:13px;color:#000;letter-spacing:-0.479px;">20</div><svg style="left:1427px;top:123.5px" width="12" height="9" viewBox="0 0 12 9"><polyline points="1.5,2 6,6.5 10.5,2" fill="none" stroke="#444" stroke-width="1.1"/></svg><div style="left:1446px;top:115px;width:44px;height:22px;background:#fff;border:1px solid #7a7a7a;"></div><div class="t" style="left:1318.88px;top:118.00px;width:300px;height:18px;line-height:18px;font-size:13px;color:#000;text-align:center;letter-spacing:-0.238px;">1611</div><div style="left:1496px;top:115px;width:148px;height:22px;background:#e1e1e1;border:1px solid #adadad;"></div><div class="t" style="left:1501.00px;top:118.50px;width:400px;height:18px;line-height:18px;font-size:13px;color:#000;letter-spacing:-0.064px;">Australia</div><svg style="left:1629px;top:123.5px" width="12" height="9" viewBox="0 0 12 9"><polyline points="1.5,2 6,6.5 10.5,2" fill="none" stroke="#444" stroke-width="1.1"/></svg><div style="left:1648px;top:115px;width:44px;height:22px;background:#e1e1e1;border:1px solid #adadad;"></div><svg style="left:1677px;top:123.5px" width="12" height="9" viewBox="0 0 12 9"><polyline points="1.5,2 6,6.5 10.5,2" fill="none" stroke="#444" stroke-width="1.1"/></svg><div style="left:1696px;top:115px;width:44px;height:22px;background:#e1e1e1;border:1px solid #adadad;"></div><div class="t" style="left:1701.00px;top:118.50px;width:400px;height:18px;line-height:18px;font-size:13px;color:#000;letter-spacing:-0.479px;">29</div><svg style="left:1725px;top:123.5px" width="12" height="9" viewBox="0 0 12 9"><polyline points="1.5,2 6,6.5 10.5,2" fill="none" stroke="#444" stroke-width="1.1"/></svg><div style="left:1744px;top:115px;width:44px;height:22px;background:#e1e1e1;border:1px solid #adadad;"></div><div class="t" style="left:1749.00px;top:118.50px;width:400px;height:18px;line-height:18px;font-size:13px;color:#000;letter-spacing:-0.479px;">58</div><svg style="left:1773px;top:123.5px" width="12" height="9" viewBox="0 0 12 9"><polyline points="1.5,2 6,6.5 10.5,2" fill="none" stroke="#444" stroke-width="1.1"/></svg><div style="left:1792px;top:115px;width:44px;height:22px;background:#e1e1e1;border:1px solid #adadad;"></div><div class="t" style="left:1797.00px;top:118.50px;width:400px;height:18px;line-height:18px;font-size:13px;color:#000;letter-spacing:-0.750px;">OC</div><svg style="left:1821px;top:123.5px" width="12" height="9" viewBox="0 0 12 9"><polyline points="1.5,2 6,6.5 10.5,2" fill="none" stroke="#444" stroke-width="1.1"/></svg><div style="left:1847px;top:121px;width:11px;height:11px;background:#fff;border:1px solid #333;"></div><div style="left:1870px;top:116px;width:18px;height:20px;background:#e1e1e1;border:1px solid #adadad;"></div><div class="t" style="left:1730.00px;top:118.50px;width:300px;height:18px;line-height:18px;font-size:13px;color:#000;text-align:center;">Q</div><div class="t" style="left:931.29px;top:138.70px;width:300px;height:18px;line-height:18px;font-size:13px;color:#000;text-align:center;letter-spacing:-0.419px;">Name</div><div class="t" style="left:1010.29px;top:138.70px;width:300px;height:18px;line-height:18px;font-size:13px;color:#000;text-align:center;letter-spacing:-0.813px;">QTH</div><div class="t" style="left:1084.21px;top:138.70px;width:300px;height:18px;line-height:18px;font-size:13px;color:#000;text-align:center;letter-spacing:-0.389px;">Grid</div><div class="t" style="left:1269.11px;top:138.70px;width:300px;height:18px;line-height:18px;font-size:13px;color:#000;text-align:center;letter-spacing:-0.777px;">PWR</div><div class="t" style="left:1318.57px;top:138.70px;width:300px;height:18px;line-height:18px;font-size:13px;color:#000;text-align:center;letter-spacing:0.149px;">Time</div><div class="t" style="left:1420.18px;top:138.70px;width:300px;height:18px;line-height:18px;font-size:13px;color:#000;text-align:center;letter-spacing:-0.234px;">Country Name</div><div class="t" style="left:1520.46px;top:138.70px;width:300px;height:18px;line-height:18px;font-size:13px;color:#000;text-align:center;letter-spacing:-0.071px;">State</div><div class="t" style="left:1567.25px;top:138.70px;width:300px;height:18px;line-height:18px;font-size:13px;color:#000;text-align:center;letter-spacing:-1.500px;">CQ</div><div class="t" style="left:1616.74px;top:138.70px;width:300px;height:18px;line-height:18px;font-size:13px;color:#000;text-align:center;letter-spacing:-0.313px;">ITU</div><div class="t" style="left:1664.24px;top:138.70px;width:300px;height:18px;line-height:18px;font-size:13px;color:#000;text-align:center;letter-spacing:-0.314px;">Cont.</div><div class="t" style="left:1704.20px;top:138.70px;width:300px;height:18px;line-height:18px;font-size:13px;color:#000;text-align:center;letter-spacing:-1.004px;">QSL</div><div style="left:1265px;top:140.5px;width:126px;height:16px;background:#e1e1e1;border:1px solid #adadad;"></div><div class="t" style="left:1178.78px;top:140.80px;width:300px;height:18px;line-height:18px;font-size:13px;color:#000;text-align:center;letter-spacing:-0.444px;">QSL Message</div><div style="left:966px;top:168px;width:925px;height:1px;background:#696969"></div><div class="t" style="left:745.29px;top:175.60px;width:300px;height:18px;line-height:18px;font-size:13px;color:#000;text-align:right;letter-spacing:-0.208px;">JT65 Band :</div><div class="t" style="left:745.33px;top:195.90px;width:300px;height:18px;line-height:18px;font-size:13px;color:#000;text-align:right;letter-spacing:-0.166px;">Callsign :</div><div class="t" style="left:744.77px;top:215.60px;width:300px;height:18px;line-height:18px;font-size:13px;color:#000;text-align:right;letter-spacing:-0.727px;">DXCC :</div><div class="t" style="left:745.35px;top:235.60px;width:300px;height:18px;line-height:18px;font-size:13px;color:#000;text-align:right;letter-spacing:-0.155px;">US State :</div><div class="t" style="left:912.30px;top:175.60px;width:300px;height:18px;line-height:18px;font-size:13px;color:#000;text-align:center;letter-spacing:-0.3px;">160</div><div class="t" style="left:938.70px;top:175.60px;width:300px;height:18px;line-height:18px;font-size:13px;color:#000;text-align:center;letter-spacing:-0.3px;">80</div><div class="t" style="left:964.70px;top:175.60px;width:300px;height:18px;line-height:18px;font-size:13px;color:#000;text-align:center;letter-spacing:-0.3px;">60</div><div class="t" style="left:990.70px;top:175.60px;width:300px;height:18px;line-height:18px;font-size:13px;color:#000;text-align:center;letter-spacing:-0.3px;">40</div><div class="t" style="left:1016.70px;top:175.60px;width:300px;height:18px;line-height:18px;font-size:13px;color:#000;text-align:center;letter-spacing:-0.3px;">30</div><div class="t" style="left:1042.70px;top:175.60px;width:300px;height:18px;line-height:18px;font-size:13px;color:#000;text-align:center;letter-spacing:-0.3px;">20</div><div class="t" style="left:1068.70px;top:175.60px;width:300px;height:18px;line-height:18px;font-size:13px;color:#000;text-align:center;letter-spacing:-0.3px;">17</div><div class="t" style="left:1094.70px;top:175.60px;width:300px;height:18px;line-height:18px;font-size:13px;color:#000;text-align:center;letter-spacing:-0.3px;">15</div><div class="t" style="left:1120.70px;top:175.60px;width:300px;height:18px;line-height:18px;font-size:13px;color:#000;text-align:center;letter-spacing:-0.3px;">12</div><div class="t" style="left:1146.70px;top:175.60px;width:300px;height:18px;line-height:18px;font-size:13px;color:#000;text-align:center;letter-spacing:-0.3px;">10</div><div class="t" style="left:1172.70px;top:175.60px;width:300px;height:18px;line-height:18px;font-size:13px;color:#000;text-align:center;letter-spacing:-0.3px;">6</div><div class="t" style="left:1198.70px;top:175.60px;width:300px;height:18px;line-height:18px;font-size:13px;color:#000;text-align:center;letter-spacing:-0.3px;">2</div><div class="t" style="left:1231.00px;top:175.60px;width:300px;height:18px;line-height:18px;font-size:13px;color:#000;text-align:center;">#</div><div class="t" style="left:1231.00px;top:196.40px;width:300px;height:18px;line-height:18px;font-size:13px;color:#000;text-align:center;">0</div><div class="t" style="left:1231.00px;top:216.10px;width:300px;height:18px;line-height:18px;font-size:13px;color:#000;text-align:center;">0</div><div class="t" style="left:1231.00px;top:236.10px;width:300px;height:18px;line-height:18px;font-size:13px;color:#000;text-align:center;">0</div><div class="t" style="left:1255.40px;top:175.60px;width:300px;height:18px;line-height:18px;font-size:13px;color:#000;text-align:center;">:</div><div class="t" style="left:1255.40px;top:195.90px;width:300px;height:18px;line-height:18px;font-size:13px;color:#000;text-align:center;">:</div><div class="t" style="left:1255.40px;top:215.60px;width:300px;height:18px;line-height:18px;font-size:13px;color:#000;text-align:center;">:</div><div class="t" style="left:1255.40px;top:235.60px;width:300px;height:18px;line-height:18px;font-size:13px;color:#000;text-align:center;">:</div><div class="t" style="left:1187.11px;top:175.60px;width:300px;height:18px;line-height:18px;font-size:13px;color:#0000ff;text-align:right;letter-spacing:-0.186px;font-weight:bold;">FT8 Band :</div><div class="t" style="left:1187.13px;top:195.90px;width:300px;height:18px;line-height:18px;font-size:13px;color:#000;text-align:right;letter-spacing:-0.166px;">Callsign :</div><div class="t" style="left:1186.57px;top:215.60px;width:300px;height:18px;line-height:18px;font-size:13px;color:#000;text-align:right;letter-spacing:-0.727px;">DXCC :</div><div class="t" style="left:1187.15px;top:235.60px;width:300px;height:18px;line-height:18px;font-size:13px;color:#000;text-align:right;letter-spacing:-0.155px;">US State :</div><div class="t" style="left:1354.30px;top:175.60px;width:300px;height:18px;line-height:18px;font-size:13px;color:#000;text-align:center;letter-spacing:-0.3px;">160</div><div class="t" style="left:1380.70px;top:175.60px;width:300px;height:18px;line-height:18px;font-size:13px;color:#000;text-align:center;letter-spacing:-0.3px;">80</div><div class="t" style="left:1406.65px;top:175.60px;width:300px;height:18px;line-height:18px;font-size:13px;color:#000;text-align:center;letter-spacing:-0.3px;">60</div><div class="t" style="left:1432.60px;top:175.60px;width:300px;height:18px;line-height:18px;font-size:13px;color:#ff0000;text-align:center;font-weight:bold;letter-spacing:-0.3px;">40</div><div class="t" style="left:1458.55px;top:175.60px;width:300px;height:18px;line-height:18px;font-size:13px;color:#000;text-align:center;letter-spacing:-0.3px;">30</div><div class="t" style="left:1484.50px;top:175.60px;width:300px;height:18px;line-height:18px;font-size:13px;color:#000;text-align:center;letter-spacing:-0.3px;">20</div><div class="t" style="left:1510.45px;top:175.60px;width:300px;height:18px;line-height:18px;font-size:13px;color:#000;text-align:center;letter-spacing:-0.3px;">17</div><div class="t" style="left:1536.40px;top:175.60px;width:300px;height:18px;line-height:18px;font-size:13px;color:#000;text-align:center;letter-spacing:-0.3px;">15</div><div class="t" style="left:1562.35px;top:175.60px;width:300px;height:18px;line-height:18px;font-size:13px;color:#000;text-align:center;letter-spacing:-0.3px;">12</div><div class="t" style="left:1588.30px;top:175.60px;width:300px;height:18px;line-height:18px;font-size:13px;color:#000;text-align:center;letter-spacing:-0.3px;">10</div><div class="t" style="left:1614.25px;top:175.60px;width:300px;height:18px;line-height:18px;font-size:13px;color:#000;text-align:center;letter-spacing:-0.3px;">6</div><div class="t" style="left:1640.20px;top:175.60px;width:300px;height:18px;line-height:18px;font-size:13px;color:#000;text-align:center;letter-spacing:-0.3px;">2</div><div class="t" style="left:1673.40px;top:175.60px;width:300px;height:18px;line-height:18px;font-size:13px;color:#000;text-align:center;">#</div><div class="t" style="left:1673.40px;top:196.40px;width:300px;height:18px;line-height:18px;font-size:13px;color:#000;text-align:center;">1</div><div class="t" style="left:1673.40px;top:216.10px;width:300px;height:18px;line-height:18px;font-size:13px;color:#000;text-align:center;">1</div><div class="t" style="left:1673.40px;top:236.10px;width:300px;height:18px;line-height:18px;font-size:13px;color:#000;text-align:center;">0</div><div class="t" style="left:1695.70px;top:175.60px;width:300px;height:18px;line-height:18px;font-size:13px;color:#000;text-align:center;">:</div><div class="t" style="left:1695.70px;top:195.90px;width:300px;height:18px;line-height:18px;font-size:13px;color:#000;text-align:center;">:</div><div class="t" style="left:1695.70px;top:215.60px;width:300px;height:18px;line-height:18px;font-size:13px;color:#000;text-align:center;">:</div><div class="t" style="left:1695.70px;top:235.60px;width:300px;height:18px;line-height:18px;font-size:13px;color:#000;text-align:center;">:</div><svg style="left:1575.6px;top:196px" width="14" height="14" viewBox="-7 -7 14 14"><path d="M-4.5 0.5 L-2 4.5 L4.5 -5.5" fill="none" stroke="#333" stroke-width="1.3"/></svg><svg style="left:1575.6px;top:216px" width="14" height="14" viewBox="-7 -7 14 14"><path d="M-4.5 0.5 L-2 4.5 L4.5 -5.5" fill="none" stroke="#333" stroke-width="1.3"/></svg><div style="left:1577.5px;top:238.5px;width:9px;height:9px;border:1.5px solid #ff0000;"></div><svg style="left:1850.5px;top:175.5px" width="14" height="14" viewBox="-7 -7 14 14"><path d="M-4.5 0.5 L-2 4.5 L4.5 -5.5" fill="none" stroke="#333" stroke-width="1.105"/></svg><div class="t" style="left:1868.40px;top:176.00px;width:400px;height:18px;line-height:18px;font-size:13px;color:#000;letter-spacing:0.045px;">Wrk</div><svg style="left:1850.5px;top:196px" width="14" height="14" viewBox="-7 -7 14 14"><path d="M-4.5 0.5 L-2 4.5 L4.5 -5.5" fill="none" stroke="#0000ff" stroke-width="1.8199999999999998"/></svg><div class="t" style="left:1868.40px;top:196.00px;width:400px;height:18px;line-height:18px;font-size:13px;color:#000;letter-spacing:-0.276px;">Cfm</div>
<!-- wide --><div style="left:960px;top:263px;width:943px;height:30px;background:#fff"></div><svg style="left:968px;top:269px" width="16" height="16" viewBox="0 0 16 16"><defs><radialGradient id="gg2" cx="0.62" cy="0.58" r="0.6"><stop offset="0" stop-color="#8a8aff"/><stop offset="0.5" stop-color="#4343ff"/><stop offset="1" stop-color="#3030f4"/></radialGradient></defs><circle cx="8" cy="8" r="7.9" fill="url(#gg2)"/><path d="M4.5 1.2 C7 -0.2 11 0 13.5 2.5 C15.2 4.3 16 6.5 15.8 9 L14.3 8.2 C14.6 6 13.8 4.4 12.6 3.4 C10.8 1.8 8 1.6 5.6 2.4 Z" fill="#21e621"/><path d="M4.6 4.2 L6.8 3.6 L8.6 4.6 L9.6 3.6 L10.4 5 L9.6 7.4 L8.2 9.6 L6.4 10.2 L5.2 11 L4.2 9.4 L4 6.6 Z" fill="#18f018"/><path d="M8.3 13 L10.4 12.2 L12.6 12.9 L11.4 14.6 L9.2 15.4 Z" fill="#18f018"/></svg><div class="t" style="left:989.00px;top:270.10px;width:400px;height:17px;line-height:17px;font-size:12px;color:#999;letter-spacing:-0.320px;">WSJT-X - Wide Graph</div><svg style="left:1700px;top:263px" width="203" height="30" viewBox="1700 263 203 30"><path d="M1717 272.5 L1720.5 269.5 V271.5 H1723.5 V269.5 L1727 272.5 L1723.5 275.5 V273.5 H1720.5 V275.5 Z" fill="#000"/><path d="M1784 277.5 H1794" stroke="#999" stroke-width="1"/><rect x="1829.5" y="272.5" width="9" height="9" fill="none" stroke="#e0e0e0" stroke-width="1"/><path d="M1875 272 L1885 282 M1885 272 L1875 282" stroke="#999" stroke-width="1"/></svg><div style="left:960px;top:293px;width:943px;height:31px;background:#fff"></div><div style="left:960px;top:293px;width:943px;height:1px;background:#000"></div><svg style="left:960px;top:293px" width="943" height="32" viewBox="960 293 943 32"><path d="M994.5 317 V323" stroke="#000" stroke-width="1"/><path d="M1028.5 317 V323" stroke="#000" stroke-width="1"/><path d="M1062.5 311 V323" stroke="#000" stroke-width="1"/><path d="M1096.5 317 V323" stroke="#000" stroke-width="1"/><path d="M1130.5 317 V323" stroke="#000" stroke-width="1"/><path d="M1165.5 317 V323" stroke="#000" stroke-width="1"/><path d="M1199.5 317 V323" stroke="#000" stroke-width="1"/><path d="M1233.5 311 V323" stroke="#000" stroke-width="1"/><path d="M1267.5 317 V323" stroke="#000" stroke-width="1"/><path d="M1301.5 317 V323" stroke="#000" stroke-width="1"/><path d="M1335.5 317 V323" stroke="#000" stroke-width="1"/><path d="M1370.5 317 V323" stroke="#000" stroke-width="1"/><path d="M1404.5 311 V323" stroke="#000" stroke-width="1"/><path d="M1438.5 317 V323" stroke="#000" stroke-width="1"/><path d="M1472.5 317 V323" stroke="#000" stroke-width="1"/><path d="M1506.5 317 V323" stroke="#000" stroke-width="1"/><path d="M1540.5 317 V323" stroke="#000" stroke-width="1"/><path d="M1575.5 311 V323" stroke="#000" stroke-width="1"/><path d="M1609.5 317 V323" stroke="#000" stroke-width="1"/><path d="M1643.5 317 V323" stroke="#000" stroke-width="1"/><path d="M1677.5 317 V323" stroke="#000" stroke-width="1"/><path d="M1711.5 317 V323" stroke="#000" stroke-width="1"/><path d="M1745.5 311 V323" stroke="#000" stroke-width="1"/><path d="M1780.5 317 V323" stroke="#000" stroke-width="1"/><path d="M1814.5 317 V323" stroke="#000" stroke-width="1"/><path d="M1848.5 317 V323" stroke="#000" stroke-width="1"/><path d="M1882.5 317 V323" stroke="#000" stroke-width="1"/><text x="1060.9" y="309" text-anchor="middle" font-family="Liberation Sans, sans-serif" font-size="16" fill="#000" textLength="26" lengthAdjust="spacingAndGlyphs">500</text><text x="1231.7" y="309" text-anchor="middle" font-family="Liberation Sans, sans-serif" font-size="16" fill="#000" textLength="35" lengthAdjust="spacingAndGlyphs">1000</text><text x="1402.5" y="309" text-anchor="middle" font-family="Liberation Sans, sans-serif" font-size="16" fill="#000" textLength="35" lengthAdjust="spacingAndGlyphs">1500</text><text x="1573.4" y="309" text-anchor="middle" font-family="Liberation Sans, sans-serif" font-size="16" fill="#000" textLength="35" lengthAdjust="spacingAndGlyphs">2000</text><text x="1744.2" y="309" text-anchor="middle" font-family="Liberation Sans, sans-serif" font-size="16" fill="#000" textLength="35" lengthAdjust="spacingAndGlyphs">2500</text><text x="1915.0" y="309" text-anchor="middle" font-family="Liberation Sans, sans-serif" font-size="16" fill="#000" textLength="35" lengthAdjust="spacingAndGlyphs">3000</text><path d="M1308 316.5 V310 H1324 V316.5" fill="none" stroke="#ff0000" stroke-width="2"/><path d="M1308 316 V322 H1324 V316" fill="none" stroke="#00ff00" stroke-width="2"/><rect x="960" y="322.6" width="943" height="1.6" fill="#00ff00"/></svg><div style="left:965px;top:295.5px;width:11px;height:11px;background:#fff;border:1px solid #333;"></div><svg style="left:965px;top:295.5px" width="13" height="13" viewBox="0 0 13 13"><polyline points="2.5,6.5 5.3,9.5 10.5,3" fill="none" stroke="#555" stroke-width="1.3"/></svg><div class="t" style="left:982.70px;top:294.80px;width:400px;height:15px;line-height:15px;font-size:11px;color:#000;letter-spacing:-0.157px;">Controls</div><svg style="left:960px;top:324px" width="943" height="401" viewBox="0 0 943 401"><defs><filter id="wf" x="0" y="0" width="100%" height="100%" filterUnits="objectBoundingBox" color-interpolation-filters="sRGB"><feGaussianBlur in="SourceGraphic" stdDeviation="1.8 0.9" result="E"/><feTurbulence type="fractalNoise" baseFrequency="0.2 0.75" numOctaves="2" seed="7" result="m0"/><feColorMatrix in="m0" type="matrix" values="1 0 0 0 0  1 0 0 0 0  1 0 0 0 0  0 0 0 0 1" result="M"/><feComposite in="E" in2="M" operator="arithmetic" k1="4.3" k2="-1.15" k3="0" k4="0" result="T"/><feTurbulence type="fractalNoise" baseFrequency="0.8 0.95" numOctaves="1" seed="11" result="f0"/><feColorMatrix in="f0" type="matrix" values="1 0 0 0 0  1 0 0 0 0  1 0 0 0 0  0 0 0 0 1" result="F"/><feComposite in="E" in2="F" operator="arithmetic" k1="-1.4450" k2="0.7225" k3="0.85" k4="-0.2300" result="N"/><feComposite in="T" in2="N" operator="arithmetic" k1="0" k2="1" k3="1" k4="0" result="S"/><feComponentTransfer in="S"><feFuncR type="table" tableValues="0.000 0.000 0.000 0.000 0.020 0.059 0.157 0.431 0.647 0.776 0.894 0.980 1.000 1.000 1.000 1.000 1.000 1.000 1.000 1.000 1.000"/><feFuncG type="table" tableValues="0.000 0.000 0.020 0.078 0.125 0.176 0.275 0.471 0.647 0.753 0.863 0.949 0.941 0.855 0.588 0.353 0.259 0.259 0.259 0.259 0.259"/><feFuncB type="table" tableValues="0.078 0.353 0.627 0.784 0.855 0.882 0.863 0.588 0.373 0.282 0.180 0.071 0.031 0.024 0.000 0.000 0.000 0.000 0.000 0.000 0.000"/><feFuncA type="linear" slope="0" intercept="1"/></feComponentTransfer></filter></defs><g filter="url(#wf)"><rect x="-5" y="-5" width="953" height="411" fill="#000"/><rect x="3" y="11" width="26" height="13" rx="5" ry="6" fill="#2b2b2b"/><rect x="98" y="1" width="22" height="23" rx="5" ry="6" fill="#5b5b5b"/><rect x="122" y="1" width="35" height="23" rx="5" ry="6" fill="#3d3d3d"/><rect x="129" y="1" width="22" height="23" rx="3" ry="4" fill="#e6e6e6"/><rect x="228" y="1" width="13" height="23" rx="5" ry="6" fill="#272727"/><rect x="280" y="1" width="15" height="23" rx="5" ry="6" fill="#272727"/><rect x="310" y="1" width="17" height="23" rx="5" ry="6" fill="#272727"/><rect x="408" y="1" width="21" height="23" rx="5" ry="6" fill="#272727"/><rect x="493" y="1" width="30" height="23" rx="5" ry="6" fill="#323232"/><rect x="570" y="1" width="17" height="23" rx="5" ry="6" fill="#323232"/><rect x="596" y="1" width="16" height="23" rx="5" ry="6" fill="#3d3d3d"/><rect x="682" y="1" width="17" height="23" rx="5" ry="6" fill="#4c4c4c"/><rect x="735" y="11" width="16" height="13" rx="5" ry="6" fill="#323232"/><rect x="843" y="1" width="13" height="23" rx="5" ry="6" fill="#272727"/><rect x="1" y="28" width="18" height="22" rx="5" ry="6" fill="#3e3e3e"/><rect x="50" y="28" width="18" height="22" rx="5" ry="6" fill="#3d3d3d"/><rect x="102" y="28" width="17" height="22" rx="5" ry="6" fill="#323232"/><rect x="244" y="28" width="36" height="22" rx="5" ry="6" fill="#5b5b5b"/><rect x="297" y="28" width="35" height="22" rx="5" ry="6" fill="#5b5b5b"/><rect x="352" y="28" width="17" height="22" rx="5" ry="6" fill="#323232"/><rect x="371" y="28" width="33" height="22" rx="5" ry="6" fill="#555555"/><rect x="408" y="28" width="18" height="22" rx="5" ry="6" fill="#3d3d3d"/><rect x="473" y="28" width="13" height="22" rx="5" ry="6" fill="#323232"/><rect x="549" y="28" width="20" height="22" rx="5" ry="6" fill="#6a6a6a"/><rect x="572" y="28" width="17" height="22" rx="5" ry="6" fill="#272727"/><rect x="627" y="28" width="22" height="22" rx="5" ry="6" fill="#6a6a6a"/><rect x="748" y="28" width="18" height="22" rx="5" ry="6" fill="#5b5b5b"/><rect x="769" y="28" width="18" height="22" rx="5" ry="6" fill="#323232"/><rect x="806" y="28" width="30" height="22" rx="5" ry="6" fill="#3d3d3d"/><rect x="8" y="54" width="23" height="22" rx="5" ry="6" fill="#323232"/><rect x="100" y="54" width="20" height="12" rx="5" ry="6" fill="#4c4c4c"/><rect x="121" y="54" width="38" height="22" rx="5" ry="6" fill="#3d3d3d"/><rect x="129" y="54" width="22" height="22" rx="3" ry="4" fill="#e6e6e6"/><rect x="208" y="54" width="17" height="22" rx="5" ry="6" fill="#3d3d3d"/><rect x="310" y="54" width="17" height="22" rx="5" ry="6" fill="#323232"/><rect x="349" y="64" width="15" height="12" rx="5" ry="6" fill="#3d3d3d"/><rect x="408" y="54" width="16" height="22" rx="5" ry="6" fill="#272727"/><rect x="439" y="54" width="18" height="22" rx="5" ry="6" fill="#525252"/><rect x="488" y="54" width="35" height="22" rx="5" ry="6" fill="#4c4c4c"/><rect x="572" y="54" width="15" height="22" rx="5" ry="6" fill="#323232"/><rect x="596" y="54" width="18" height="22" rx="5" ry="6" fill="#3d3d3d"/><rect x="653" y="54" width="16" height="22" rx="5" ry="6" fill="#272727"/><rect x="683" y="54" width="16" height="22" rx="5" ry="6" fill="#525252"/><rect x="735" y="54" width="15" height="22" rx="5" ry="6" fill="#323232"/><rect x="772" y="54" width="15" height="22" rx="5" ry="6" fill="#2e2e2e"/><rect x="1" y="80" width="30" height="12" rx="5" ry="6" fill="#292929"/><rect x="50" y="80" width="18" height="22" rx="5" ry="6" fill="#525252"/><rect x="102" y="80" width="17" height="22" rx="5" ry="6" fill="#323232"/><rect x="245" y="80" width="23" height="22" rx="5" ry="6" fill="#525252"/><rect x="292" y="80" width="40" height="22" rx="5" ry="6" fill="#5b5b5b"/><rect x="352" y="80" width="17" height="22" rx="5" ry="6" fill="#2e2e2e"/><rect x="371" y="80" width="33" height="22" rx="5" ry="6" fill="#464646"/><rect x="408" y="80" width="18" height="22" rx="5" ry="6" fill="#3d3d3d"/><rect x="473" y="80" width="13" height="22" rx="5" ry="6" fill="#3d3d3d"/><rect x="508" y="80" width="15" height="22" rx="5" ry="6" fill="#272727"/><rect x="549" y="80" width="20" height="22" rx="5" ry="6" fill="#6a6a6a"/><rect x="572" y="80" width="17" height="22" rx="5" ry="6" fill="#2e2e2e"/><rect x="629" y="80" width="18" height="12" rx="5" ry="6" fill="#464646"/><rect x="750" y="80" width="16" height="22" rx="5" ry="6" fill="#4c4c4c"/><rect x="769" y="80" width="18" height="22" rx="5" ry="6" fill="#323232"/><rect x="806" y="80" width="30" height="22" rx="5" ry="6" fill="#3d3d3d"/><rect x="878" y="80" width="20" height="22" rx="5" ry="6" fill="#5b5b5b"/><rect x="1" y="106" width="30" height="22" rx="5" ry="6" fill="#393939"/><rect x="50" y="106" width="16" height="22" rx="5" ry="6" fill="#272727"/><rect x="100" y="106" width="20" height="22" rx="5" ry="6" fill="#3d3d3d"/><rect x="121" y="106" width="41" height="22" rx="5" ry="6" fill="#3d3d3d"/><rect x="129" y="106" width="22" height="22" rx="3" ry="4" fill="#e6e6e6"/><rect x="264" y="106" width="18" height="22" rx="5" ry="6" fill="#525252"/><rect x="311" y="106" width="16" height="22" rx="5" ry="6" fill="#383838"/><rect x="347" y="106" width="16" height="22" rx="5" ry="6" fill="#383838"/><rect x="408" y="106" width="18" height="22" rx="5" ry="6" fill="#2b2b2b"/><rect x="439" y="106" width="18" height="22" rx="5" ry="6" fill="#464646"/><rect x="488" y="106" width="35" height="22" rx="5" ry="6" fill="#4c4c4c"/><rect x="572" y="106" width="15" height="22" rx="5" ry="6" fill="#363636"/><rect x="596" y="106" width="18" height="22" rx="5" ry="6" fill="#464646"/><rect x="640" y="106" width="26" height="22" rx="5" ry="6" fill="#3d3d3d"/><rect x="683" y="106" width="18" height="22" rx="5" ry="6" fill="#555555"/><rect x="730" y="106" width="20" height="22" rx="5" ry="6" fill="#3d3d3d"/><rect x="1" y="132" width="30" height="22" rx="5" ry="6" fill="#323232"/><rect x="50" y="132" width="18" height="22" rx="5" ry="6" fill="#4c4c4c"/><rect x="102" y="132" width="17" height="22" rx="5" ry="6" fill="#3d3d3d"/><rect x="132" y="132" width="15" height="22" rx="5" ry="6" fill="#272727"/><rect x="247" y="132" width="16" height="22" rx="5" ry="6" fill="#434343"/><rect x="292" y="132" width="40" height="22" rx="5" ry="6" fill="#555555"/><rect x="352" y="132" width="17" height="22" rx="5" ry="6" fill="#363636"/><rect x="371" y="132" width="23" height="22" rx="5" ry="6" fill="#4c4c4c"/><rect x="408" y="132" width="18" height="22" rx="5" ry="6" fill="#434343"/><rect x="473" y="132" width="14" height="22" rx="5" ry="6" fill="#434343"/><rect x="505" y="132" width="18" height="12" rx="5" ry="6" fill="#2e2e2e"/><rect x="549" y="132" width="20" height="22" rx="5" ry="6" fill="#646464"/><rect x="572" y="132" width="17" height="22" rx="5" ry="6" fill="#323232"/><rect x="651" y="132" width="18" height="22" rx="5" ry="6" fill="#4c4c4c"/><rect x="772" y="132" width="15" height="22" rx="5" ry="6" fill="#323232"/><rect x="806" y="132" width="33" height="22" rx="5" ry="6" fill="#3d3d3d"/><rect x="878" y="132" width="20" height="22" rx="5" ry="6" fill="#616161"/><rect x="1" y="158" width="30" height="22" rx="5" ry="6" fill="#323232"/><rect x="100" y="158" width="20" height="22" rx="5" ry="6" fill="#383838"/><rect x="121" y="158" width="38" height="22" rx="5" ry="6" fill="#3d3d3d"/><rect x="129" y="158" width="22" height="22" rx="3" ry="4" fill="#e6e6e6"/><rect x="207" y="158" width="18" height="22" rx="5" ry="6" fill="#5b5b5b"/><rect x="264" y="158" width="18" height="22" rx="5" ry="6" fill="#4c4c4c"/><rect x="311" y="158" width="16" height="22" rx="5" ry="6" fill="#3d3d3d"/><rect x="418" y="158" width="18" height="22" rx="5" ry="6" fill="#434343"/><rect x="439" y="158" width="18" height="22" rx="5" ry="6" fill="#383838"/><rect x="473" y="158" width="13" height="22" rx="5" ry="6" fill="#323232"/><rect x="488" y="158" width="30" height="22" rx="5" ry="6" fill="#4c4c4c"/><rect x="572" y="158" width="15" height="22" rx="5" ry="6" fill="#323232"/><rect x="596" y="158" width="18" height="22" rx="5" ry="6" fill="#4c4c4c"/><rect x="640" y="158" width="29" height="22" rx="5" ry="6" fill="#3d3d3d"/><rect x="683" y="158" width="18" height="22" rx="5" ry="6" fill="#5b5b5b"/><rect x="730" y="158" width="20" height="22" rx="5" ry="6" fill="#363636"/><rect x="1" y="184" width="23" height="22" rx="5" ry="6" fill="#252525"/><rect x="50" y="184" width="18" height="22" rx="5" ry="6" fill="#4c4c4c"/><rect x="102" y="184" width="17" height="22" rx="5" ry="6" fill="#363636"/><rect x="132" y="184" width="15" height="22" rx="5" ry="6" fill="#2e2e2e"/><rect x="222" y="184" width="17" height="22" rx="5" ry="6" fill="#434343"/><rect x="247" y="184" width="16" height="22" rx="5" ry="6" fill="#4c4c4c"/><rect x="302" y="184" width="18" height="22" rx="5" ry="6" fill="#5b5b5b"/><rect x="352" y="184" width="17" height="22" rx="5" ry="6" fill="#3d3d3d"/><rect x="371" y="184" width="18" height="22" rx="5" ry="6" fill="#464646"/><rect x="408" y="184" width="18" height="22" rx="5" ry="6" fill="#464646"/><rect x="472" y="184" width="12" height="22" rx="5" ry="6" fill="#2b2b2b"/><rect x="549" y="184" width="20" height="12" rx="5" ry="6" fill="#5b5b5b"/><rect x="572" y="184" width="17" height="22" rx="5" ry="6" fill="#383838"/><rect x="596" y="184" width="18" height="22" rx="5" ry="6" fill="#525252"/><rect x="651" y="184" width="18" height="22" rx="5" ry="6" fill="#464646"/><rect x="703" y="184" width="15" height="22" rx="5" ry="6" fill="#434343"/><rect x="772" y="184" width="15" height="22" rx="5" ry="6" fill="#383838"/><rect x="806" y="184" width="33" height="22" rx="5" ry="6" fill="#3d3d3d"/><rect x="878" y="184" width="20" height="22" rx="5" ry="6" fill="#555555"/><rect x="1" y="220" width="28" height="12" rx="5" ry="6" fill="#323232"/><rect x="112" y="210" width="50" height="22" rx="5" ry="6" fill="#3b3b3b"/><rect x="129" y="210" width="22" height="22" rx="3" ry="4" fill="#e6e6e6"/><rect x="164" y="210" width="18" height="22" rx="5" ry="6" fill="#434343"/><rect x="207" y="210" width="18" height="22" rx="5" ry="6" fill="#616161"/><rect x="274" y="210" width="10" height="22" rx="5" ry="6" fill="#272727"/><rect x="347" y="210" width="16" height="22" rx="5" ry="6" fill="#434343"/><rect x="411" y="210" width="25" height="22" rx="5" ry="6" fill="#3d3d3d"/><rect x="495" y="210" width="33" height="22" rx="5" ry="6" fill="#323232"/><rect x="572" y="210" width="15" height="22" rx="5" ry="6" fill="#383838"/><rect x="596" y="210" width="18" height="22" rx="5" ry="6" fill="#4c4c4c"/><rect x="641" y="210" width="28" height="22" rx="5" ry="6" fill="#4f4f4f"/><rect x="683" y="210" width="18" height="22" rx="5" ry="6" fill="#4f4f4f"/><rect x="732" y="210" width="18" height="22" rx="5" ry="6" fill="#434343"/><rect x="1" y="236" width="20" height="22" rx="5" ry="6" fill="#2e2e2e"/><rect x="50" y="236" width="16" height="22" rx="5" ry="6" fill="#3d3d3d"/><rect x="102" y="236" width="17" height="22" rx="5" ry="6" fill="#434343"/><rect x="132" y="236" width="15" height="22" rx="5" ry="6" fill="#3d3d3d"/><rect x="203" y="236" width="16" height="22" rx="5" ry="6" fill="#2e2e2e"/><rect x="222" y="236" width="17" height="22" rx="5" ry="6" fill="#434343"/><rect x="247" y="236" width="16" height="22" rx="5" ry="6" fill="#464646"/><rect x="306" y="236" width="16" height="12" rx="5" ry="6" fill="#4f4f4f"/><rect x="347" y="236" width="17" height="22" rx="5" ry="6" fill="#555555"/><rect x="371" y="236" width="18" height="22" rx="5" ry="6" fill="#464646"/><rect x="408" y="236" width="18" height="22" rx="5" ry="6" fill="#434343"/><rect x="468" y="236" width="20" height="22" rx="5" ry="6" fill="#555555"/><rect x="535" y="236" width="17" height="22" rx="5" ry="6" fill="#272727"/><rect x="572" y="236" width="17" height="22" rx="5" ry="6" fill="#323232"/><rect x="595" y="236" width="19" height="22" rx="5" ry="6" fill="#525252"/><rect x="651" y="236" width="18" height="22" rx="5" ry="6" fill="#494949"/><rect x="683" y="236" width="18" height="22" rx="5" ry="6" fill="#323232"/><rect x="703" y="236" width="15" height="12" rx="5" ry="6" fill="#3d3d3d"/><rect x="772" y="236" width="15" height="22" rx="5" ry="6" fill="#383838"/><rect x="806" y="236" width="33" height="22" rx="5" ry="6" fill="#4c4c4c"/><rect x="880" y="236" width="18" height="22" rx="5" ry="6" fill="#434343"/><rect x="1" y="262" width="20" height="22" rx="5" ry="6" fill="#292929"/><rect x="112" y="262" width="47" height="22" rx="5" ry="6" fill="#3b3b3b"/><rect x="129" y="262" width="22" height="22" rx="3" ry="4" fill="#e6e6e6"/><rect x="163" y="262" width="34" height="22" rx="5" ry="6" fill="#464646"/><rect x="207" y="262" width="18" height="22" rx="5" ry="6" fill="#5b5b5b"/><rect x="247" y="262" width="16" height="22" rx="5" ry="6" fill="#383838"/><rect x="280" y="262" width="15" height="22" rx="5" ry="6" fill="#383838"/><rect x="347" y="262" width="16" height="22" rx="5" ry="6" fill="#4c4c4c"/><rect x="411" y="262" width="18" height="22" rx="5" ry="6" fill="#323232"/><rect x="441" y="262" width="16" height="22" rx="5" ry="6" fill="#383838"/><rect x="498" y="262" width="30" height="22" rx="5" ry="6" fill="#303030"/><rect x="559" y="262" width="28" height="22" rx="5" ry="6" fill="#383838"/><rect x="596" y="262" width="18" height="22" rx="5" ry="6" fill="#494949"/><rect x="647" y="262" width="22" height="22" rx="5" ry="6" fill="#525252"/><rect x="683" y="262" width="18" height="22" rx="5" ry="6" fill="#4f4f4f"/><rect x="735" y="262" width="15" height="22" rx="5" ry="6" fill="#3d3d3d"/><rect x="1" y="288" width="28" height="21" rx="5" ry="6" fill="#373737"/><rect x="74" y="288" width="18" height="21" rx="5" ry="6" fill="#464646"/><rect x="102" y="288" width="17" height="21" rx="5" ry="6" fill="#434343"/><rect x="132" y="288" width="15" height="21" rx="5" ry="6" fill="#343434"/><rect x="203" y="288" width="16" height="21" rx="5" ry="6" fill="#323232"/><rect x="222" y="288" width="17" height="12" rx="5" ry="6" fill="#3d3d3d"/><rect x="247" y="288" width="16" height="21" rx="5" ry="6" fill="#434343"/><rect x="347" y="288" width="17" height="21" rx="5" ry="6" fill="#5b5b5b"/><rect x="371" y="288" width="18" height="21" rx="5" ry="6" fill="#5b5b5b"/><rect x="408" y="288" width="18" height="21" rx="5" ry="6" fill="#464646"/><rect x="473" y="288" width="14" height="21" rx="5" ry="6" fill="#555555"/><rect x="573" y="288" width="16" height="21" rx="5" ry="6" fill="#3d3d3d"/><rect x="596" y="288" width="18" height="21" rx="5" ry="6" fill="#525252"/><rect x="651" y="288" width="18" height="21" rx="5" ry="6" fill="#525252"/><rect x="683" y="288" width="15" height="21" rx="5" ry="6" fill="#303030"/><rect x="730" y="288" width="15" height="21" rx="5" ry="6" fill="#2b2b2b"/><rect x="772" y="288" width="15" height="21" rx="5" ry="6" fill="#3d3d3d"/><rect x="806" y="288" width="33" height="21" rx="5" ry="6" fill="#3d3d3d"/><rect x="880" y="288" width="16" height="21" rx="5" ry="6" fill="#3d3d3d"/><rect x="6" y="313" width="23" height="22" rx="5" ry="6" fill="#323232"/><rect x="121" y="313" width="38" height="22" rx="5" ry="6" fill="#3d3d3d"/><rect x="129" y="313" width="22" height="22" rx="3" ry="4" fill="#e6e6e6"/><rect x="161" y="313" width="36" height="22" rx="5" ry="6" fill="#4f4f4f"/><rect x="248" y="313" width="13" height="22" rx="5" ry="6" fill="#3d3d3d"/><rect x="263" y="313" width="19" height="22" rx="5" ry="6" fill="#5b5b5b"/><rect x="284" y="313" width="14" height="22" rx="5" ry="6" fill="#363636"/><rect x="347" y="313" width="17" height="22" rx="5" ry="6" fill="#494949"/><rect x="371" y="313" width="21" height="22" rx="5" ry="6" fill="#646464"/><rect x="408" y="313" width="18" height="22" rx="5" ry="6" fill="#383838"/><rect x="441" y="313" width="16" height="22" rx="5" ry="6" fill="#383838"/><rect x="505" y="313" width="23" height="22" rx="5" ry="6" fill="#363636"/><rect x="558" y="313" width="22" height="22" rx="5" ry="6" fill="#3b3b3b"/><rect x="595" y="313" width="19" height="22" rx="5" ry="6" fill="#5b5b5b"/><rect x="646" y="313" width="23" height="22" rx="5" ry="6" fill="#555555"/><rect x="683" y="313" width="18" height="22" rx="5" ry="6" fill="#4f4f4f"/><rect x="733" y="313" width="19" height="22" rx="5" ry="6" fill="#3d3d3d"/><rect x="753" y="313" width="12" height="22" rx="5" ry="6" fill="#2e2e2e"/><rect x="6" y="339" width="18" height="22" rx="5" ry="6" fill="#323232"/><rect x="74" y="339" width="18" height="22" rx="5" ry="6" fill="#555555"/><rect x="102" y="339" width="17" height="22" rx="5" ry="6" fill="#383838"/><rect x="132" y="339" width="15" height="22" rx="5" ry="6" fill="#323232"/><rect x="203" y="339" width="16" height="22" rx="5" ry="6" fill="#383838"/><rect x="247" y="339" width="16" height="22" rx="5" ry="6" fill="#3b3b3b"/><rect x="347" y="339" width="20" height="22" rx="5" ry="6" fill="#494949"/><rect x="371" y="339" width="21" height="22" rx="5" ry="6" fill="#5b5b5b"/><rect x="408" y="339" width="18" height="22" rx="5" ry="6" fill="#383838"/><rect x="473" y="339" width="14" height="22" rx="5" ry="6" fill="#464646"/><rect x="651" y="339" width="18" height="22" rx="5" ry="6" fill="#5b5b5b"/><rect x="683" y="339" width="15" height="12" rx="5" ry="6" fill="#343434"/><rect x="806" y="339" width="33" height="22" rx="5" ry="6" fill="#434343"/><rect x="880" y="339" width="17" height="22" rx="5" ry="6" fill="#4c4c4c"/><rect x="6" y="365" width="23" height="22" rx="5" ry="6" fill="#3e3e3e"/><rect x="121" y="365" width="38" height="22" rx="5" ry="6" fill="#3d3d3d"/><rect x="129" y="365" width="22" height="22" rx="3" ry="4" fill="#e6e6e6"/><rect x="179" y="365" width="18" height="22" rx="5" ry="6" fill="#464646"/><rect x="248" y="365" width="47" height="22" rx="5" ry="6" fill="#3d3d3d"/><rect x="266" y="365" width="18" height="22" rx="5" ry="6" fill="#4f4f4f"/><rect x="347" y="365" width="17" height="22" rx="5" ry="6" fill="#494949"/><rect x="371" y="365" width="21" height="22" rx="5" ry="6" fill="#646464"/><rect x="441" y="365" width="17" height="22" rx="5" ry="6" fill="#3d3d3d"/><rect x="505" y="365" width="23" height="22" rx="5" ry="6" fill="#363636"/><rect x="572" y="365" width="15" height="22" rx="5" ry="6" fill="#343434"/><rect x="596" y="365" width="18" height="22" rx="5" ry="6" fill="#494949"/><rect x="646" y="365" width="18" height="22" rx="5" ry="6" fill="#525252"/><rect x="683" y="365" width="18" height="22" rx="5" ry="6" fill="#4c4c4c"/><rect x="735" y="365" width="30" height="22" rx="5" ry="6" fill="#323232"/><rect x="1" y="391" width="28" height="16" rx="5" ry="6" fill="#323232"/><rect x="74" y="391" width="18" height="16" rx="5" ry="6" fill="#555555"/><rect x="102" y="391" width="17" height="16" rx="5" ry="6" fill="#323232"/><rect x="152" y="391" width="17" height="16" rx="5" ry="6" fill="#323232"/><rect x="203" y="391" width="16" height="16" rx="5" ry="6" fill="#323232"/><rect x="247" y="391" width="16" height="16" rx="5" ry="6" fill="#3d3d3d"/><rect x="347" y="391" width="17" height="16" rx="5" ry="6" fill="#5b5b5b"/><rect x="371" y="391" width="18" height="16" rx="5" ry="6" fill="#5b5b5b"/><rect x="473" y="391" width="14" height="16" rx="5" ry="6" fill="#555555"/><rect x="806" y="391" width="33" height="16" rx="5" ry="6" fill="#464646"/><rect x="880" y="391" width="17" height="16" rx="5" ry="6" fill="#464646"/></g><rect x="0" y="25" width="943" height="1.2" fill="#00ff00"/><rect x="0" y="51" width="943" height="1.2" fill="#00ff00"/><rect x="0" y="77" width="943" height="1.2" fill="#00ff00"/><rect x="0" y="103" width="943" height="1.2" fill="#00ff00"/><rect x="0" y="129" width="943" height="1.2" fill="#00ff00"/><rect x="0" y="155" width="943" height="1.2" fill="#00ff00"/><rect x="0" y="181" width="943" height="1.2" fill="#00ff00"/><rect x="0" y="207" width="943" height="1.2" fill="#00ff00"/><rect x="0" y="233" width="943" height="1.2" fill="#00ff00"/><rect x="0" y="259" width="943" height="1.2" fill="#00ff00"/><rect x="0" y="285" width="943" height="1.2" fill="#00ff00"/><rect x="0" y="310" width="943" height="1.2" fill="#00ff00"/><rect x="0" y="336" width="943" height="1.2" fill="#00ff00"/><rect x="0" y="362" width="943" height="1.2" fill="#00ff00"/><rect x="0" y="388" width="943" height="1.2" fill="#00ff00"/><text x="5.5" y="23.0" font-family="Liberation Sans, sans-serif" font-size="11.5" fill="#fff" textLength="43" lengthAdjust="spacingAndGlyphs">16:34:30</text><text x="61.5" y="23.0" font-family="Liberation Sans, sans-serif" font-size="11.5" fill="#fff" textLength="19.5" lengthAdjust="spacingAndGlyphs">40m</text><text x="5.5" y="49.0" font-family="Liberation Sans, sans-serif" font-size="11.5" fill="#fff" textLength="43" lengthAdjust="spacingAndGlyphs">16:34:15</text><text x="61.5" y="49.0" font-family="Liberation Sans, sans-serif" font-size="11.5" fill="#fff" textLength="19.5" lengthAdjust="spacingAndGlyphs">40m</text><text x="5.5" y="75.0" font-family="Liberation Sans, sans-serif" font-size="11.5" fill="#fff" textLength="43" lengthAdjust="spacingAndGlyphs">16:34:00</text><text x="61.5" y="75.0" font-family="Liberation Sans, sans-serif" font-size="11.5" fill="#fff" textLength="19.5" lengthAdjust="spacingAndGlyphs">40m</text><text x="5.5" y="101.0" font-family="Liberation Sans, sans-serif" font-size="11.5" fill="#fff" textLength="43" lengthAdjust="spacingAndGlyphs">16:33:45</text><text x="61.5" y="101.0" font-family="Liberation Sans, sans-serif" font-size="11.5" fill="#fff" textLength="19.5" lengthAdjust="spacingAndGlyphs">40m</text><text x="5.5" y="127.0" font-family="Liberation Sans, sans-serif" font-size="11.5" fill="#fff" textLength="43" lengthAdjust="spacingAndGlyphs">16:33:30</text><text x="61.5" y="127.0" font-family="Liberation Sans, sans-serif" font-size="11.5" fill="#fff" textLength="19.5" lengthAdjust="spacingAndGlyphs">40m</text><text x="5.5" y="153.0" font-family="Liberation Sans, sans-serif" font-size="11.5" fill="#fff" textLength="43" lengthAdjust="spacingAndGlyphs">16:33:15</text><text x="61.5" y="153.0" font-family="Liberation Sans, sans-serif" font-size="11.5" fill="#fff" textLength="19.5" lengthAdjust="spacingAndGlyphs">40m</text><text x="5.5" y="179.0" font-family="Liberation Sans, sans-serif" font-size="11.5" fill="#fff" textLength="43" lengthAdjust="spacingAndGlyphs">16:33:00</text><text x="61.5" y="179.0" font-family="Liberation Sans, sans-serif" font-size="11.5" fill="#fff" textLength="19.5" lengthAdjust="spacingAndGlyphs">40m</text><text x="5.5" y="205.0" font-family="Liberation Sans, sans-serif" font-size="11.5" fill="#fff" textLength="43" lengthAdjust="spacingAndGlyphs">16:32:45</text><text x="61.5" y="205.0" font-family="Liberation Sans, sans-serif" font-size="11.5" fill="#fff" textLength="19.5" lengthAdjust="spacingAndGlyphs">40m</text><text x="5.5" y="231.0" font-family="Liberation Sans, sans-serif" font-size="11.5" fill="#fff" textLength="43" lengthAdjust="spacingAndGlyphs">16:32:30</text><text x="61.5" y="231.0" font-family="Liberation Sans, sans-serif" font-size="11.5" fill="#fff" textLength="19.5" lengthAdjust="spacingAndGlyphs">40m</text><text x="5.5" y="257.0" font-family="Liberation Sans, sans-serif" font-size="11.5" fill="#fff" textLength="43" lengthAdjust="spacingAndGlyphs">16:32:15</text><text x="61.5" y="257.0" font-family="Liberation Sans, sans-serif" font-size="11.5" fill="#fff" textLength="19.5" lengthAdjust="spacingAndGlyphs">40m</text><text x="5.5" y="283.0" font-family="Liberation Sans, sans-serif" font-size="11.5" fill="#fff" textLength="43" lengthAdjust="spacingAndGlyphs">16:32:00</text><text x="61.5" y="283.0" font-family="Liberation Sans, sans-serif" font-size="11.5" fill="#fff" textLength="19.5" lengthAdjust="spacingAndGlyphs">40m</text><text x="5.5" y="308.0" font-family="Liberation Sans, sans-serif" font-size="11.5" fill="#fff" textLength="43" lengthAdjust="spacingAndGlyphs">16:31:45</text><text x="61.5" y="308.0" font-family="Liberation Sans, sans-serif" font-size="11.5" fill="#fff" textLength="19.5" lengthAdjust="spacingAndGlyphs">40m</text><text x="5.5" y="334.0" font-family="Liberation Sans, sans-serif" font-size="11.5" fill="#fff" textLength="43" lengthAdjust="spacingAndGlyphs">16:31:30</text><text x="61.5" y="334.0" font-family="Liberation Sans, sans-serif" font-size="11.5" fill="#fff" textLength="19.5" lengthAdjust="spacingAndGlyphs">40m</text><text x="5.5" y="360.0" font-family="Liberation Sans, sans-serif" font-size="11.5" fill="#fff" textLength="43" lengthAdjust="spacingAndGlyphs">16:31:15</text><text x="61.5" y="360.0" font-family="Liberation Sans, sans-serif" font-size="11.5" fill="#fff" textLength="19.5" lengthAdjust="spacingAndGlyphs">40m</text><text x="5.5" y="386.0" font-family="Liberation Sans, sans-serif" font-size="11.5" fill="#fff" textLength="43" lengthAdjust="spacingAndGlyphs">16:31:00</text><text x="61.5" y="386.0" font-family="Liberation Sans, sans-serif" font-size="11.5" fill="#fff" textLength="19.5" lengthAdjust="spacingAndGlyphs">40m</text></svg><svg style="left:960px;top:725px" width="943" height="288" viewBox="960 725 943 288"><defs><linearGradient id="sg" x1="0" y1="0" x2="0" y2="1"><stop offset="0" stop-color="#000078"/><stop offset="0.3" stop-color="#000064"/><stop offset="0.6" stop-color="#000038"/><stop offset="0.85" stop-color="#000010"/><stop offset="1" stop-color="#000000"/></linearGradient></defs><rect x="960" y="725" width="943" height="288" fill="url(#sg)"/><rect x="960" y="725" width="943" height="1" fill="#000"/><path d="M1062.5 726 V1013" stroke="#fff" stroke-width="1" stroke-dasharray="1 2.1" fill="none"/><path d="M1233.5 726 V1013" stroke="#fff" stroke-width="1" stroke-dasharray="1 2.1" fill="none"/><path d="M1404.5 726 V1013" stroke="#fff" stroke-width="1" stroke-dasharray="1 2.1" fill="none"/><path d="M1575.5 726 V1013" stroke="#fff" stroke-width="1" stroke-dasharray="1 2.1" fill="none"/><path d="M1745.5 726 V1013" stroke="#fff" stroke-width="1" stroke-dasharray="1 2.1" fill="none"/><path d="M960 766.5 H1903" stroke="#fff" stroke-width="1" stroke-dasharray="1 2.1" fill="none"/><path d="M960 807.5 H1903" stroke="#fff" stroke-width="1" stroke-dasharray="1 2.1" fill="none"/><path d="M960 848.5 H1903" stroke="#fff" stroke-width="1" stroke-dasharray="1 2.1" fill="none"/><path d="M960 889.5 H1903" stroke="#fff" stroke-width="1" stroke-dasharray="1 2.1" fill="none"/><path d="M960 930.5 H1903" stroke="#fff" stroke-width="1" stroke-dasharray="1 2.1" fill="none"/><path d="M960 971.5 H1903" stroke="#fff" stroke-width="1" stroke-dasharray="1 2.1" fill="none"/><polyline points="960.0,1003.8 963.2,979.5 967.3,966.5 972.2,940.5 975.4,914.6 977.5,910.5 979.5,917.8 981.9,943.8 986.8,957.6 990.8,951.9 995.4,946.2 1001.4,951.1 1006.2,947.8 1010.3,934.1 1014.3,901.6 1016.4,896.4 1018.4,901.6 1022.4,938.9 1024.9,957.6 1027.3,958.4 1031.4,974.6 1034.9,964.9 1037.0,973.8 1038.6,973.0 1041.1,961.6 1044.3,960.8 1047.6,953.5 1052.4,943.0 1054.1,945.4 1057.3,963.2 1061.4,971.4 1063.0,991.6 1063.8,963.2 1067.0,949.5 1071.9,968.1 1074.8,998.1 1075.1,1012.7 1075.9,982.7 1079.2,955.1 1084.1,955.9 1087.3,977.8 1088.9,966.5 1091.4,951.1 1094.6,961.6 1097.8,947.4 1100.3,961.6 1102.7,982.7 1104.3,1012.7 1105.9,985.9 1108.4,966.5 1112.4,956.8 1114.1,964.9 1116.5,981.1 1118.9,980.3 1120.9,999.7 1123.0,977.8 1125.4,970.5 1127.8,973.0 1131.1,950.3 1135.9,938.1 1138.4,947.8 1140.8,951.9 1143.2,971.4 1146.5,998.1 1149.4,1012.7 1151.4,985.9 1153.0,960.0 1155.4,938.9 1158.6,929.2 1162.4,921.4 1165.9,932.4 1170.0,949.5 1172.4,934.1 1174.1,932.4 1175.7,943.8 1178.1,924.3 1180.5,920.3 1184.6,921.1 1187.0,930.8 1189.9,951.1 1192.7,924.3 1194.3,922.7 1196.8,938.9 1196.9,938.9 1200.7,917.8 1205.5,888.6 1210.4,867.6 1214.5,861.1 1216.9,872.4 1218.5,904.9 1219.0,943.8 1220.9,908.1 1222.6,907.3 1225.8,921.1 1228.7,941.4 1231.5,928.4 1233.1,927.6 1235.5,953.5 1236.8,1006.2 1238.8,953.5 1241.2,925.9 1244.9,922.4 1247.7,932.4 1251.8,948.6 1255.0,952.7 1257.4,940.5 1261.5,930.0 1265.1,926.8 1268.0,908.1 1271.2,880.5 1273.6,858.6 1275.6,857.0 1277.7,867.6 1281.8,896.8 1285.0,913.0 1287.4,915.4 1290.7,908.9 1293.9,905.2 1296.8,915.4 1298.8,917.5 1301.7,914.6 1304.5,921.1 1306.9,931.6 1310.1,917.8 1314.2,908.4 1316.6,912.2 1319.9,921.1 1321.5,940.5 1322.8,974.6 1324.7,950.3 1326.7,970.5 1328.8,951.9 1332.8,917.8 1335.3,895.9 1337.4,893.5 1339.3,908.1 1341.8,917.8 1343.4,920.3 1347.4,915.4 1353.1,896.8 1358.0,887.4 1359.6,896.8 1361.2,917.0 1363.6,906.5 1366.9,905.7 1370.9,903.2 1376.6,906.5 1379.1,917.8 1380.2,953.5 1381.0,989.2 1382.3,956.8 1384.4,950.3 1387.2,954.3 1391.2,947.0 1393.6,956.8 1395.8,960.8 1397.7,943.8 1400.1,916.2 1402.6,910.1 1405.0,922.7 1411.5,918.6 1413.9,927.6 1416.4,950.3 1418.8,964.9 1421.2,964.1 1423.6,968.9 1426.1,953.5 1428.5,940.5 1430.0,935.7 1433.2,955.1 1435.7,934.1 1439.4,927.6 1442.6,935.7 1445.4,960.0 1449.5,957.1 1452.7,961.6 1456.8,991.6 1460.0,981.1 1463.2,963.2 1464.9,960.8 1466.0,966.5 1468.9,943.8 1472.2,936.5 1475.4,943.8 1478.3,962.4 1481.1,951.9 1482.7,950.3 1485.1,958.4 1486.8,985.9 1487.6,1012.7 1490.0,1003.0 1491.6,1012.7 1493.6,1005.4 1494.9,969.7 1497.3,945.4 1501.4,935.7 1503.8,934.1 1506.2,938.9 1508.6,935.7 1510.8,938.9 1513.5,933.2 1515.6,932.4 1517.6,950.3 1519.2,985.9 1520.8,977.8 1523.2,989.2 1526.0,1006.2 1527.3,973.0 1529.7,956.8 1533.0,943.8 1534.6,953.5 1536.7,986.8 1538.3,942.2 1540.3,916.2 1542.2,912.5 1544.3,921.1 1546.8,935.7 1550.0,939.2 1554.1,929.2 1555.7,935.7 1557.8,1008.6 1559.7,953.5 1561.0,932.4 1563.0,931.6 1565.4,945.4 1568.6,951.9 1571.1,958.4 1573.5,945.4 1576.8,942.2 1580.0,930.8 1583.2,935.7 1587.3,929.5 1590.2,937.3 1592.2,929.2 1595.4,928.4 1598.6,918.6 1602.7,912.2 1606.8,915.4 1609.2,925.1 1612.4,925.9 1614.9,937.3 1616.0,1001.4 1617.8,953.5 1619.7,924.3 1622.2,910.5 1626.2,904.1 1628.6,900.3 1631.9,905.7 1636.8,909.7 1640.8,915.4 1642.8,914.6 1644.9,927.6 1646.0,971.4 1647.3,950.3 1649.2,945.4 1651.4,979.5 1653.0,955.1 1655.4,952.7 1657.0,958.4 1658.6,927.6 1660.3,909.7 1662.7,907.3 1665.0,909.7 1667.4,913.0 1669.5,955.1 1671.5,930.8 1673.9,916.2 1676.4,943.8 1678.3,989.2 1680.4,995.4 1681.2,943.8 1684.5,917.8 1686.4,917.0 1688.5,925.1 1690.9,916.2 1692.9,915.4 1695.0,930.8 1696.6,947.8 1699.1,924.3 1701.5,908.1 1703.9,906.2 1705.9,911.4 1708.0,927.6 1711.2,935.7 1713.3,950.3 1714.5,1012.7 1715.3,974.6 1716.6,951.9 1718.2,945.4 1720.1,950.3 1722.1,949.9 1724.2,956.8 1727.4,955.9 1729.9,921.1 1732.3,904.9 1736.4,893.5 1740.4,867.6 1742.5,865.6 1744.5,878.9 1746.9,906.5 1749.0,929.2 1750.9,917.8 1753.9,907.3 1755.8,916.2 1757.8,950.3 1759.9,921.1 1762.3,913.0 1764.2,914.9 1767.2,895.1 1770.1,878.1 1772.0,876.5 1774.0,893.5 1776.9,897.6 1780.9,900.8 1783.4,892.7 1785.8,897.6 1789.1,897.1 1791.5,903.2 1793.9,925.9 1796.4,965.7 1798.8,960.0 1800.9,988.4 1802.8,950.3 1804.5,937.3 1807.7,930.8 1810.1,921.9 1815.0,918.6 1816.6,908.1 1818.7,905.2 1822.0,909.7 1824.7,931.6 1827.2,904.9 1829.6,895.9 1832.8,895.1 1834.9,893.2 1837.2,908.1 1840.1,928.4 1842.6,947.0 1843.7,977.0 1845.8,945.4 1847.9,942.2 1849.5,960.0 1851.5,930.8 1853.4,923.0 1855.5,934.1 1857.2,953.5 1859.6,927.6 1861.5,913.0 1863.2,912.2 1865.3,925.9 1866.9,940.5 1870.6,946.2 1873.4,984.3 1876.6,985.1 1878.7,1003.0 1880.7,969.7 1882.3,960.0 1883.6,958.4 1885.2,982.7 1887.2,978.6 1888.8,1006.2 1890.4,960.0 1892.0,940.5 1894.5,930.8 1898.5,923.0 1900.9,927.6 1902.1,931.6" fill="none" stroke="#19f019" stroke-width="1.15" stroke-linejoin="round"/></svg><div style="left:960px;top:293px;width:1px;height:720px;background:#000"></div><div style="left:960px;top:1013px;width:943px;height:55px;background:#f0f0f0"></div><div style="left:1070.5px;top:1018px;width:96px;height:16px;background:#fff;border:1px solid #7a7a7a;"></div><div class="t" style="left:1073.00px;top:1020.00px;width:400px;height:15px;line-height:15px;font-size:11px;color:#000;letter-spacing:-0.156px;">Bins/Pixel  4</div><div style="left:1152.5px;top:1020px;width:13px;height:13px;background:#f0f0f0;border:1px solid #dcdcdc;"></div><svg style="left:1155.5px;top:1020.0px" width="9" height="14" viewBox="0 0 9 14"><path d="M1.5 5.5 L4.5 2.5 L7.5 5.5 Z M1.5 8.5 L4.5 11.5 L7.5 8.5 Z" fill="#000"/></svg><div style="left:1174.5px;top:1018px;width:86px;height:16px;background:#fff;border:1px solid #7a7a7a;"></div><div class="t" style="left:1177.00px;top:1020.00px;width:400px;height:15px;line-height:15px;font-size:11px;color:#000;letter-spacing:-0.053px;">Start 200 Hz</div><div style="left:1246.5px;top:1020px;width:13px;height:13px;background:#f0f0f0;border:1px solid #dcdcdc;"></div><svg style="left:1249.5px;top:1020.0px" width="9" height="14" viewBox="0 0 9 14"><path d="M1.5 5.5 L4.5 2.5 L7.5 5.5 Z M1.5 8.5 L4.5 11.5 L7.5 8.5 Z" fill="#000"/></svg><div style="left:1070.5px;top:1045px;width:96px;height:16px;background:#f0f0f0;border:1px solid #bcbcbc;"></div><div class="t" style="left:1073.00px;top:1047.00px;width:400px;height:15px;line-height:15px;font-size:11px;color:#a0a0a0;letter-spacing:-0.232px;">JT65  2500  JT9</div><div style="left:1152.5px;top:1047px;width:13px;height:13px;background:#f4f4f4;border:1px solid #dcdcdc;"></div><svg style="left:1155.5px;top:1047.0px" width="9" height="14" viewBox="0 0 9 14"><path d="M1.5 5.5 L4.5 2.5 L7.5 5.5 Z M1.5 8.5 L4.5 11.5 L7.5 8.5 Z" fill="#b0b0b0"/></svg><div style="left:1174.5px;top:1045px;width:86px;height:16px;background:#fff;border:1px solid #7a7a7a;"></div><div class="t" style="left:1177.00px;top:1047.00px;width:400px;height:15px;line-height:15px;font-size:11px;color:#000;letter-spacing:0.026px;">N Avg 2</div><div style="left:1246.5px;top:1047px;width:13px;height:13px;background:#f0f0f0;border:1px solid #dcdcdc;"></div><svg style="left:1249.5px;top:1047.0px" width="9" height="14" viewBox="0 0 9 14"><path d="M1.5 5.5 L4.5 2.5 L7.5 5.5 Z M1.5 8.5 L4.5 11.5 L7.5 8.5 Z" fill="#000"/></svg><div style="left:1268.5px;top:1014px;width:1px;height:54px;background:#a0a0a0"></div><div style="left:1269.5px;top:1014px;width:1px;height:54px;background:#fff"></div><div style="left:1399px;top:1014px;width:1px;height:54px;background:#a0a0a0"></div><div style="left:1400px;top:1014px;width:1px;height:54px;background:#fff"></div><div class="t" style="left:1281.00px;top:1020.50px;width:400px;height:15px;line-height:15px;font-size:11px;color:#000;letter-spacing:0.037px;">Palette</div><div style="left:1320.5px;top:1017.5px;width:70px;height:19px;background:#e1e1e1;border:1px solid #adadad;"></div><div class="t" style="left:1206.63px;top:1021.00px;width:300px;height:15px;line-height:15px;font-size:11px;color:#000;text-align:center;letter-spacing:0.251px;">Adjust...</div><div style="left:1276px;top:1044.5px;width:116px;height:18px;background:#e1e1e1;border:1px solid #adadad;"></div><div class="t" style="left:1279.50px;top:1047.50px;width:400px;height:15px;line-height:15px;font-size:11px;color:#000;letter-spacing:0.093px;">Default</div><svg style="left:1378px;top:1051.5px" width="10" height="6" viewBox="0 0 10 6"><path d="M1 1 H9 L5 5 Z" fill="#000"/></svg><div style="left:1407.5px;top:1021px;width:11px;height:11px;background:#fff;border:1px solid #333;"></div><svg style="left:1407.5px;top:1021px" width="13" height="13" viewBox="0 0 13 13"><polyline points="2.5,6.5 5.3,9.5 10.5,3" fill="none" stroke="#555" stroke-width="1.3"/></svg><div class="t" style="left:1424.00px;top:1020.50px;width:400px;height:15px;line-height:15px;font-size:11px;color:#000;letter-spacing:0.053px;">Flatten</div><div style="left:1464px;top:1021px;width:11px;height:11px;background:#fff;border:1px solid #333;"></div><div class="t" style="left:1481.60px;top:1020.50px;width:400px;height:15px;line-height:15px;font-size:11px;color:#000;letter-spacing:-0.218px;">Ref Spec</div><div style="left:1407.5px;top:1044.5px;width:120px;height:18px;background:#e1e1e1;border:1px solid #adadad;"></div><div class="t" style="left:1411.00px;top:1047.50px;width:400px;height:15px;line-height:15px;font-size:11px;color:#000;letter-spacing:-0.002px;">Cumulative</div><svg style="left:1513.5px;top:1051.5px" width="10" height="6" viewBox="0 0 10 6"><path d="M1 1 H9 L5 5 Z" fill="#000"/></svg><div style="left:1535px;top:1028.0px;width:82px;height:2px;background:#e7eaea;border:1px solid #d6d6d6;"></div><div style="left:1540px;top:1016.0px;width:1px;height:4px;background:#c4c4c4"></div><div style="left:1548px;top:1016.0px;width:1px;height:4px;background:#c4c4c4"></div><div style="left:1555px;top:1016.0px;width:1px;height:4px;background:#c4c4c4"></div><div style="left:1562px;top:1016.0px;width:1px;height:4px;background:#c4c4c4"></div><div style="left:1570px;top:1016.0px;width:1px;height:4px;background:#c4c4c4"></div><div style="left:1577px;top:1016.0px;width:1px;height:4px;background:#c4c4c4"></div><div style="left:1584px;top:1016.0px;width:1px;height:4px;background:#c4c4c4"></div><div style="left:1591px;top:1016.0px;width:1px;height:4px;background:#c4c4c4"></div><div style="left:1599px;top:1016.0px;width:1px;height:4px;background:#c4c4c4"></div><div style="left:1606px;top:1016.0px;width:1px;height:4px;background:#c4c4c4"></div><div style="left:1613px;top:1016.0px;width:1px;height:4px;background:#c4c4c4"></div><svg style="left:1571px;top:1020.0px" width="12" height="20" viewBox="0 0 12 20"><path d="M0.5 5.5 L6 0 L11.5 5.5 V19 H0.5 Z" fill="#0078d7"/></svg><div style="left:1624px;top:1028.0px;width:82px;height:2px;background:#e7eaea;border:1px solid #d6d6d6;"></div><div style="left:1629px;top:1016.0px;width:1px;height:4px;background:#c4c4c4"></div><div style="left:1637px;top:1016.0px;width:1px;height:4px;background:#c4c4c4"></div><div style="left:1644px;top:1016.0px;width:1px;height:4px;background:#c4c4c4"></div><div style="left:1651px;top:1016.0px;width:1px;height:4px;background:#c4c4c4"></div><div style="left:1659px;top:1016.0px;width:1px;height:4px;background:#c4c4c4"></div><div style="left:1666px;top:1016.0px;width:1px;height:4px;background:#c4c4c4"></div><div style="left:1673px;top:1016.0px;width:1px;height:4px;background:#c4c4c4"></div><div style="left:1680px;top:1016.0px;width:1px;height:4px;background:#c4c4c4"></div><div style="left:1688px;top:1016.0px;width:1px;height:4px;background:#c4c4c4"></div><div style="left:1695px;top:1016.0px;width:1px;height:4px;background:#c4c4c4"></div><div style="left:1702px;top:1016.0px;width:1px;height:4px;background:#c4c4c4"></div><svg style="left:1660px;top:1020.0px" width="12" height="20" viewBox="0 0 12 20"><path d="M0.5 5.5 L6 0 L11.5 5.5 V19 H0.5 Z" fill="#0078d7"/></svg><div style="left:1535px;top:1055.0px;width:82px;height:2px;background:#e7eaea;border:1px solid #d6d6d6;"></div><div style="left:1540px;top:1043.0px;width:1px;height:4px;background:#c4c4c4"></div><div style="left:1548px;top:1043.0px;width:1px;height:4px;background:#c4c4c4"></div><div style="left:1555px;top:1043.0px;width:1px;height:4px;background:#c4c4c4"></div><div style="left:1562px;top:1043.0px;width:1px;height:4px;background:#c4c4c4"></div><div style="left:1570px;top:1043.0px;width:1px;height:4px;background:#c4c4c4"></div><div style="left:1577px;top:1043.0px;width:1px;height:4px;background:#c4c4c4"></div><div style="left:1584px;top:1043.0px;width:1px;height:4px;background:#c4c4c4"></div><div style="left:1591px;top:1043.0px;width:1px;height:4px;background:#c4c4c4"></div><div style="left:1599px;top:1043.0px;width:1px;height:4px;background:#c4c4c4"></div><div style="left:1606px;top:1043.0px;width:1px;height:4px;background:#c4c4c4"></div><div style="left:1613px;top:1043.0px;width:1px;height:4px;background:#c4c4c4"></div><svg style="left:1571px;top:1047.0px" width="12" height="20" viewBox="0 0 12 20"><path d="M0.5 5.5 L6 0 L11.5 5.5 V19 H0.5 Z" fill="#0078d7"/></svg><div style="left:1624px;top:1055.0px;width:82px;height:2px;background:#e7eaea;border:1px solid #d6d6d6;"></div><div style="left:1629px;top:1043.0px;width:1px;height:4px;background:#c4c4c4"></div><div style="left:1637px;top:1043.0px;width:1px;height:4px;background:#c4c4c4"></div><div style="left:1644px;top:1043.0px;width:1px;height:4px;background:#c4c4c4"></div><div style="left:1651px;top:1043.0px;width:1px;height:4px;background:#c4c4c4"></div><div style="left:1659px;top:1043.0px;width:1px;height:4px;background:#c4c4c4"></div><div style="left:1666px;top:1043.0px;width:1px;height:4px;background:#c4c4c4"></div><div style="left:1673px;top:1043.0px;width:1px;height:4px;background:#c4c4c4"></div><div style="left:1680px;top:1043.0px;width:1px;height:4px;background:#c4c4c4"></div><div style="left:1688px;top:1043.0px;width:1px;height:4px;background:#c4c4c4"></div><div style="left:1695px;top:1043.0px;width:1px;height:4px;background:#c4c4c4"></div><div style="left:1702px;top:1043.0px;width:1px;height:4px;background:#c4c4c4"></div><svg style="left:1660px;top:1047.0px" width="12" height="20" viewBox="0 0 12 20"><path d="M0.5 5.5 L6 0 L11.5 5.5 V19 H0.5 Z" fill="#0078d7"/></svg><div style="left:1713.5px;top:1018px;width:79px;height:16px;background:#fff;border:1px solid #7a7a7a;"></div><div class="t" style="left:1718.50px;top:1020.00px;width:400px;height:15px;line-height:15px;font-size:11px;color:#000;letter-spacing:-0.078px;">Spec 40 %</div><div style="left:1778.5px;top:1020px;width:13px;height:13px;background:#f0f0f0;border:1px solid #dcdcdc;"></div><svg style="left:1781.5px;top:1020.0px" width="9" height="14" viewBox="0 0 9 14"><path d="M1.5 5.5 L4.5 2.5 L7.5 5.5 Z M1.5 8.5 L4.5 11.5 L7.5 8.5 Z" fill="#000"/></svg><div style="left:1713.5px;top:1045px;width:79px;height:16px;background:#f0f0f0;border:1px solid #bcbcbc;"></div><div class="t" style="left:1720.50px;top:1047.00px;width:400px;height:15px;line-height:15px;font-size:11px;color:#a0a0a0;letter-spacing:-0.182px;">Smooth  1</div><div style="left:1778.5px;top:1047px;width:13px;height:13px;background:#f4f4f4;border:1px solid #dcdcdc;"></div><svg style="left:1781.5px;top:1047.0px" width="9" height="14" viewBox="0 0 9 14"><path d="M1.5 5.5 L4.5 2.5 L7.5 5.5 Z M1.5 8.5 L4.5 11.5 L7.5 8.5 Z" fill="#b0b0b0"/></svg>
</div>
</body></html>
